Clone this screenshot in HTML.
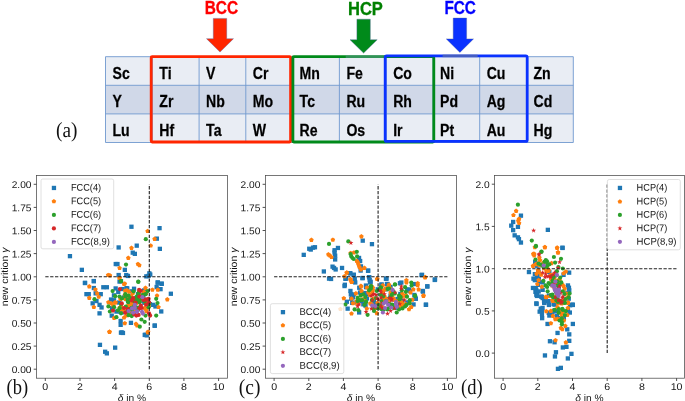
<!DOCTYPE html>
<html><head><meta charset="utf-8"><title>figure</title>
<style>html,body{margin:0;padding:0;background:#fff;}body{width:685px;height:401px;overflow:hidden;position:relative;font-family:"Liberation Sans",sans-serif;}</style></head>
<body>
<svg width="685" height="401" viewBox="0 0 685 401" style="position:absolute;left:0;top:0;will-change:transform">
<rect x="130.0" y="311.9" width="4.3" height="4.3" fill="#1f77b4"/>
<rect x="118.2" y="309.5" width="4.3" height="4.3" fill="#1f77b4"/>
<rect x="126.0" y="298.6" width="4.3" height="4.3" fill="#1f77b4"/>
<rect x="147.7" y="302.0" width="4.3" height="4.3" fill="#1f77b4"/>
<rect x="128.3" y="307.5" width="4.3" height="4.3" fill="#1f77b4"/>
<rect x="142.2" y="300.6" width="4.3" height="4.3" fill="#1f77b4"/>
<rect x="135.8" y="292.1" width="4.3" height="4.3" fill="#1f77b4"/>
<rect x="124.5" y="296.9" width="4.3" height="4.3" fill="#1f77b4"/>
<rect x="116.1" y="289.8" width="4.3" height="4.3" fill="#1f77b4"/>
<rect x="111.5" y="298.9" width="4.3" height="4.3" fill="#1f77b4"/>
<rect x="126.9" y="298.1" width="4.3" height="4.3" fill="#1f77b4"/>
<rect x="129.6" y="289.2" width="4.3" height="4.3" fill="#1f77b4"/>
<rect x="128.0" y="302.7" width="4.3" height="4.3" fill="#1f77b4"/>
<rect x="137.7" y="293.2" width="4.3" height="4.3" fill="#1f77b4"/>
<rect x="125.1" y="286.3" width="4.3" height="4.3" fill="#1f77b4"/>
<rect x="124.4" y="286.0" width="4.3" height="4.3" fill="#1f77b4"/>
<rect x="114.3" y="309.4" width="4.3" height="4.3" fill="#1f77b4"/>
<rect x="109.9" y="306.1" width="4.3" height="4.3" fill="#1f77b4"/>
<rect x="132.6" y="298.1" width="4.3" height="4.3" fill="#1f77b4"/>
<rect x="134.4" y="305.7" width="4.3" height="4.3" fill="#1f77b4"/>
<rect x="141.3" y="298.8" width="4.3" height="4.3" fill="#1f77b4"/>
<rect x="121.7" y="295.3" width="4.3" height="4.3" fill="#1f77b4"/>
<rect x="117.0" y="300.4" width="4.3" height="4.3" fill="#1f77b4"/>
<rect x="119.8" y="310.2" width="4.3" height="4.3" fill="#1f77b4"/>
<rect x="111.8" y="293.2" width="4.3" height="4.3" fill="#1f77b4"/>
<rect x="120.5" y="286.9" width="4.3" height="4.3" fill="#1f77b4"/>
<rect x="141.8" y="288.4" width="4.3" height="4.3" fill="#1f77b4"/>
<rect x="125.5" y="296.1" width="4.3" height="4.3" fill="#1f77b4"/>
<rect x="142.0" y="288.8" width="4.3" height="4.3" fill="#1f77b4"/>
<rect x="141.2" y="294.4" width="4.3" height="4.3" fill="#1f77b4"/>
<rect x="129.3" y="224.6" width="4.3" height="4.3" fill="#1f77b4"/>
<rect x="157.4" y="226.0" width="4.3" height="4.3" fill="#1f77b4"/>
<rect x="154.7" y="236.5" width="4.3" height="4.3" fill="#1f77b4"/>
<rect x="134.6" y="243.5" width="4.3" height="4.3" fill="#1f77b4"/>
<rect x="116.5" y="245.3" width="4.3" height="4.3" fill="#1f77b4"/>
<rect x="157.7" y="246.7" width="4.3" height="4.3" fill="#1f77b4"/>
<rect x="130.6" y="250.5" width="4.3" height="4.3" fill="#1f77b4"/>
<rect x="132.7" y="251.7" width="4.3" height="4.3" fill="#1f77b4"/>
<rect x="67.8" y="254.0" width="4.3" height="4.3" fill="#1f77b4"/>
<rect x="113.6" y="261.9" width="4.3" height="4.3" fill="#1f77b4"/>
<rect x="115.3" y="261.9" width="4.3" height="4.3" fill="#1f77b4"/>
<rect x="79.7" y="267.7" width="4.3" height="4.3" fill="#1f77b4"/>
<rect x="122.7" y="267.7" width="4.3" height="4.3" fill="#1f77b4"/>
<rect x="116.5" y="272.9" width="4.3" height="4.3" fill="#1f77b4"/>
<rect x="124.1" y="272.9" width="4.3" height="4.3" fill="#1f77b4"/>
<rect x="125.8" y="273.8" width="4.3" height="4.3" fill="#1f77b4"/>
<rect x="147.2" y="271.2" width="4.3" height="4.3" fill="#1f77b4"/>
<rect x="148.1" y="272.4" width="4.3" height="4.3" fill="#1f77b4"/>
<rect x="144.2" y="274.2" width="4.3" height="4.3" fill="#1f77b4"/>
<rect x="146.3" y="273.8" width="4.3" height="4.3" fill="#1f77b4"/>
<rect x="91.7" y="278.9" width="4.3" height="4.3" fill="#1f77b4"/>
<rect x="82.9" y="280.8" width="4.3" height="4.3" fill="#1f77b4"/>
<rect x="155.6" y="280.3" width="4.3" height="4.3" fill="#1f77b4"/>
<rect x="159.5" y="281.5" width="4.3" height="4.3" fill="#1f77b4"/>
<rect x="117.4" y="279.4" width="4.3" height="4.3" fill="#1f77b4"/>
<rect x="82.8" y="280.8" width="4.3" height="4.3" fill="#1f77b4"/>
<rect x="91.7" y="279.0" width="4.3" height="4.3" fill="#1f77b4"/>
<rect x="91.7" y="285.9" width="4.3" height="4.3" fill="#1f77b4"/>
<rect x="84.3" y="292.0" width="4.3" height="4.3" fill="#1f77b4"/>
<rect x="86.6" y="292.0" width="4.3" height="4.3" fill="#1f77b4"/>
<rect x="93.5" y="291.2" width="4.3" height="4.3" fill="#1f77b4"/>
<rect x="98.6" y="292.0" width="4.3" height="4.3" fill="#1f77b4"/>
<rect x="101.2" y="285.1" width="4.3" height="4.3" fill="#1f77b4"/>
<rect x="104.7" y="285.1" width="4.3" height="4.3" fill="#1f77b4"/>
<rect x="113.5" y="286.3" width="4.3" height="4.3" fill="#1f77b4"/>
<rect x="90.5" y="301.2" width="4.3" height="4.3" fill="#1f77b4"/>
<rect x="94.3" y="298.9" width="4.3" height="4.3" fill="#1f77b4"/>
<rect x="97.4" y="302.7" width="4.3" height="4.3" fill="#1f77b4"/>
<rect x="99.4" y="305.3" width="4.3" height="4.3" fill="#1f77b4"/>
<rect x="97.4" y="311.2" width="4.3" height="4.3" fill="#1f77b4"/>
<rect x="108.9" y="297.4" width="4.3" height="4.3" fill="#1f77b4"/>
<rect x="111.9" y="298.1" width="4.3" height="4.3" fill="#1f77b4"/>
<rect x="109.6" y="313.5" width="4.3" height="4.3" fill="#1f77b4"/>
<rect x="118.8" y="279.0" width="4.3" height="4.3" fill="#1f77b4"/>
<rect x="118.5" y="318.8" width="4.3" height="4.3" fill="#1f77b4"/>
<rect x="118.5" y="322.7" width="4.3" height="4.3" fill="#1f77b4"/>
<rect x="119.6" y="330.3" width="4.3" height="4.3" fill="#1f77b4"/>
<rect x="128.8" y="320.7" width="4.3" height="4.3" fill="#1f77b4"/>
<rect x="131.9" y="286.6" width="4.3" height="4.3" fill="#1f77b4"/>
<rect x="155.6" y="280.5" width="4.3" height="4.3" fill="#1f77b4"/>
<rect x="159.5" y="281.7" width="4.3" height="4.3" fill="#1f77b4"/>
<rect x="154.5" y="284.8" width="4.3" height="4.3" fill="#1f77b4"/>
<rect x="158.4" y="287.0" width="4.3" height="4.3" fill="#1f77b4"/>
<rect x="168.7" y="291.6" width="4.3" height="4.3" fill="#1f77b4"/>
<rect x="151.0" y="302.7" width="4.3" height="4.3" fill="#1f77b4"/>
<rect x="153.3" y="304.3" width="4.3" height="4.3" fill="#1f77b4"/>
<rect x="159.1" y="309.3" width="4.3" height="4.3" fill="#1f77b4"/>
<rect x="152.6" y="323.4" width="4.3" height="4.3" fill="#1f77b4"/>
<rect x="143.4" y="332.6" width="4.3" height="4.3" fill="#1f77b4"/>
<rect x="97.8" y="342.7" width="4.3" height="4.3" fill="#1f77b4"/>
<rect x="103.0" y="349.6" width="4.3" height="4.3" fill="#1f77b4"/>
<rect x="104.7" y="351.2" width="4.3" height="4.3" fill="#1f77b4"/>
<rect x="113.0" y="345.5" width="4.3" height="4.3" fill="#1f77b4"/>
<rect x="118.8" y="330.5" width="4.3" height="4.3" fill="#1f77b4"/>
<rect x="120.8" y="330.8" width="4.3" height="4.3" fill="#1f77b4"/>
<rect x="142.6" y="332.8" width="4.3" height="4.3" fill="#1f77b4"/>
<rect x="144.6" y="333.2" width="4.3" height="4.3" fill="#1f77b4"/>
<rect x="152.6" y="323.6" width="4.3" height="4.3" fill="#1f77b4"/>
<polygon points="131.4,295.2 133.7,296.9 132.8,299.6 130.0,299.6 129.1,296.9" fill="#ff7f0e"/>
<polygon points="139.3,291.9 141.6,293.5 140.7,296.2 137.9,296.2 137.0,293.5" fill="#ff7f0e"/>
<polygon points="132.3,303.2 134.5,304.9 133.7,307.6 130.8,307.6 130.0,304.9" fill="#ff7f0e"/>
<polygon points="143.9,289.5 146.2,291.2 145.3,293.9 142.5,293.9 141.6,291.2" fill="#ff7f0e"/>
<polygon points="146.4,307.1 148.7,308.7 147.8,311.4 145.0,311.4 144.1,308.7" fill="#ff7f0e"/>
<polygon points="128.1,303.0 130.4,304.7 129.5,307.3 126.7,307.3 125.8,304.7" fill="#ff7f0e"/>
<polygon points="128.8,312.1 131.1,313.8 130.2,316.4 127.4,316.4 126.5,313.8" fill="#ff7f0e"/>
<polygon points="134.9,299.1 137.2,300.7 136.3,303.4 133.5,303.4 132.6,300.7" fill="#ff7f0e"/>
<polygon points="130.9,299.2 133.2,300.8 132.3,303.5 129.5,303.5 128.6,300.8" fill="#ff7f0e"/>
<polygon points="131.2,293.5 133.5,295.2 132.6,297.9 129.8,297.9 128.9,295.2" fill="#ff7f0e"/>
<polygon points="146.0,291.2 148.3,292.8 147.4,295.5 144.6,295.5 143.8,292.8" fill="#ff7f0e"/>
<polygon points="115.0,300.1 117.3,301.8 116.4,304.5 113.6,304.5 112.7,301.8" fill="#ff7f0e"/>
<polygon points="131.6,303.4 133.9,305.1 133.0,307.7 130.2,307.7 129.3,305.1" fill="#ff7f0e"/>
<polygon points="131.2,299.6 133.5,301.2 132.6,303.9 129.8,303.9 128.9,301.2" fill="#ff7f0e"/>
<polygon points="136.4,308.3 138.7,310.0 137.8,312.7 135.0,312.7 134.1,310.0" fill="#ff7f0e"/>
<polygon points="128.5,297.7 130.7,299.3 129.9,302.0 127.0,302.0 126.2,299.3" fill="#ff7f0e"/>
<polygon points="148.9,304.0 151.2,305.6 150.4,308.3 147.5,308.3 146.7,305.6" fill="#ff7f0e"/>
<polygon points="126.1,313.2 128.4,314.8 127.6,317.5 124.7,317.5 123.9,314.8" fill="#ff7f0e"/>
<polygon points="141.0,295.9 143.3,297.5 142.4,300.2 139.6,300.2 138.7,297.5" fill="#ff7f0e"/>
<polygon points="121.2,302.9 123.5,304.6 122.6,307.3 119.8,307.3 118.9,304.6" fill="#ff7f0e"/>
<polygon points="124.8,292.5 127.1,294.2 126.3,296.9 123.4,296.9 122.6,294.2" fill="#ff7f0e"/>
<polygon points="120.4,296.8 122.7,298.4 121.8,301.1 119.0,301.1 118.1,298.4" fill="#ff7f0e"/>
<polygon points="144.2,297.2 146.4,298.9 145.6,301.5 142.7,301.5 141.9,298.9" fill="#ff7f0e"/>
<polygon points="119.6,305.4 121.9,307.1 121.0,309.8 118.2,309.8 117.3,307.1" fill="#ff7f0e"/>
<polygon points="133.7,307.4 136.0,309.1 135.1,311.7 132.3,311.7 131.4,309.1" fill="#ff7f0e"/>
<polygon points="145.1,299.3 147.3,300.9 146.5,303.6 143.6,303.6 142.8,300.9" fill="#ff7f0e"/>
<polygon points="131.8,300.3 134.1,302.0 133.2,304.7 130.4,304.7 129.5,302.0" fill="#ff7f0e"/>
<polygon points="121.8,305.7 124.1,307.4 123.2,310.1 120.4,310.1 119.5,307.4" fill="#ff7f0e"/>
<polygon points="146.3,301.9 148.6,303.6 147.8,306.3 144.9,306.3 144.1,303.6" fill="#ff7f0e"/>
<polygon points="130.8,298.7 133.0,300.3 132.2,303.0 129.3,303.0 128.5,300.3" fill="#ff7f0e"/>
<polygon points="125.1,294.2 127.3,295.9 126.5,298.6 123.7,298.6 122.8,295.9" fill="#ff7f0e"/>
<polygon points="128.9,293.8 131.1,295.5 130.3,298.2 127.4,298.2 126.6,295.5" fill="#ff7f0e"/>
<polygon points="129.0,289.4 131.3,291.0 130.4,293.7 127.6,293.7 126.7,291.0" fill="#ff7f0e"/>
<polygon points="136.3,301.0 138.6,302.6 137.7,305.3 134.9,305.3 134.0,302.6" fill="#ff7f0e"/>
<polygon points="125.1,288.4 127.4,290.0 126.5,292.7 123.7,292.7 122.8,290.0" fill="#ff7f0e"/>
<polygon points="132.9,309.3 135.2,311.0 134.3,313.7 131.5,313.7 130.6,311.0" fill="#ff7f0e"/>
<polygon points="125.4,296.7 127.7,298.4 126.8,301.1 124.0,301.1 123.1,298.4" fill="#ff7f0e"/>
<polygon points="127.1,305.9 129.4,307.5 128.5,310.2 125.7,310.2 124.8,307.5" fill="#ff7f0e"/>
<polygon points="124.0,308.1 126.3,309.8 125.4,312.5 122.6,312.5 121.7,309.8" fill="#ff7f0e"/>
<polygon points="129.9,308.0 132.2,309.7 131.3,312.4 128.5,312.4 127.6,309.7" fill="#ff7f0e"/>
<polygon points="147.6,228.7 149.9,230.4 149.0,233.1 146.2,233.1 145.3,230.4" fill="#ff7f0e"/>
<polygon points="154.6,236.6 156.9,238.3 156.0,240.9 153.2,240.9 152.3,238.3" fill="#ff7f0e"/>
<polygon points="150.7,243.3 153.0,244.9 152.2,247.6 149.3,247.6 148.5,244.9" fill="#ff7f0e"/>
<polygon points="131.5,245.5 133.8,247.2 132.9,249.9 130.1,249.9 129.2,247.2" fill="#ff7f0e"/>
<polygon points="128.3,255.5 130.6,257.2 129.7,259.9 126.9,259.9 126.0,257.2" fill="#ff7f0e"/>
<polygon points="138.0,261.7 140.2,263.3 139.4,266.0 136.6,266.0 135.7,263.3" fill="#ff7f0e"/>
<polygon points="139.4,262.9 141.6,264.5 140.8,267.2 138.0,267.2 137.1,264.5" fill="#ff7f0e"/>
<polygon points="119.6,265.7 121.8,267.3 121.0,270.0 118.2,270.0 117.3,267.3" fill="#ff7f0e"/>
<polygon points="108.2,272.7 110.5,274.3 109.6,277.0 106.8,277.0 105.9,274.3" fill="#ff7f0e"/>
<polygon points="109.9,273.0 112.2,274.7 111.3,277.4 108.5,277.4 107.6,274.7" fill="#ff7f0e"/>
<polygon points="119.6,275.7 121.8,277.3 121.0,280.0 118.2,280.0 117.3,277.3" fill="#ff7f0e"/>
<polygon points="124.8,281.3 127.1,282.9 126.2,285.6 123.4,285.6 122.5,282.9" fill="#ff7f0e"/>
<polygon points="89.3,284.1 91.5,285.8 90.7,288.4 87.8,288.4 87.0,285.8" fill="#ff7f0e"/>
<polygon points="95.4,287.2 97.7,288.8 96.8,291.5 94.0,291.5 93.1,288.8" fill="#ff7f0e"/>
<polygon points="97.2,291.0 99.5,292.7 98.6,295.3 95.8,295.3 94.9,292.7" fill="#ff7f0e"/>
<polygon points="98.8,294.4 101.0,296.0 100.2,298.7 97.3,298.7 96.5,296.0" fill="#ff7f0e"/>
<polygon points="89.3,295.6 91.5,297.3 90.7,299.9 87.8,299.9 87.0,297.3" fill="#ff7f0e"/>
<polygon points="93.9,304.8 96.1,306.4 95.3,309.1 92.4,309.1 91.6,306.4" fill="#ff7f0e"/>
<polygon points="108.4,299.9 110.7,301.5 109.8,304.2 107.0,304.2 106.1,301.5" fill="#ff7f0e"/>
<polygon points="111.0,301.0 113.3,302.6 112.4,305.3 109.6,305.3 108.7,302.6" fill="#ff7f0e"/>
<polygon points="113.3,303.3 115.6,304.9 114.7,307.6 111.9,307.6 111.0,304.9" fill="#ff7f0e"/>
<polygon points="115.6,300.2 117.9,301.8 117.0,304.5 114.2,304.5 113.3,301.8" fill="#ff7f0e"/>
<polygon points="124.0,281.8 126.3,283.5 125.5,286.1 122.6,286.1 121.8,283.5" fill="#ff7f0e"/>
<polygon points="119.5,275.7 121.7,277.3 120.9,280.0 118.0,280.0 117.2,277.3" fill="#ff7f0e"/>
<polygon points="126.8,287.9 129.1,289.6 128.2,292.3 125.4,292.3 124.5,289.6" fill="#ff7f0e"/>
<polygon points="132.9,290.7 135.2,292.3 134.4,295.0 131.5,295.0 130.7,292.3" fill="#ff7f0e"/>
<polygon points="145.5,285.6 147.8,287.3 146.9,290.0 144.1,290.0 143.2,287.3" fill="#ff7f0e"/>
<polygon points="152.4,287.5 154.7,289.1 153.8,291.8 151.0,291.8 150.1,289.1" fill="#ff7f0e"/>
<polygon points="157.8,287.5 160.1,289.1 159.2,291.8 156.4,291.8 155.5,289.1" fill="#ff7f0e"/>
<polygon points="157.0,293.3 159.3,295.0 158.4,297.6 155.6,297.6 154.7,295.0" fill="#ff7f0e"/>
<polygon points="167.3,297.1 169.6,298.8 168.7,301.5 165.9,301.5 165.0,298.8" fill="#ff7f0e"/>
<polygon points="158.5,304.8 160.8,306.4 159.9,309.1 157.1,309.1 156.3,306.4" fill="#ff7f0e"/>
<polygon points="136.3,296.4 138.6,298.0 137.7,300.7 134.9,300.7 134.0,298.0" fill="#ff7f0e"/>
<polygon points="124.0,315.2 126.3,316.9 125.5,319.6 122.6,319.6 121.8,316.9" fill="#ff7f0e"/>
<polygon points="114.1,315.5 116.4,317.2 115.5,319.9 112.7,319.9 111.8,317.2" fill="#ff7f0e"/>
<polygon points="124.8,320.9 127.1,322.5 126.2,325.2 123.4,325.2 122.5,322.5" fill="#ff7f0e"/>
<polygon points="136.0,321.6 138.3,323.3 137.4,326.0 134.6,326.0 133.7,323.3" fill="#ff7f0e"/>
<polygon points="137.1,323.2 139.4,324.8 138.5,327.5 135.7,327.5 134.8,324.8" fill="#ff7f0e"/>
<polygon points="109.5,329.6 111.8,331.3 110.9,334.0 108.1,334.0 107.2,331.3" fill="#ff7f0e"/>
<polygon points="147.8,330.1 150.1,331.7 149.2,334.4 146.4,334.4 145.5,331.7" fill="#ff7f0e"/>
<polygon points="144.7,305.6 147.0,307.2 146.2,309.9 143.3,309.9 142.5,307.2" fill="#ff7f0e"/>
<polygon points="146.3,308.6 148.6,310.3 147.7,313.0 144.9,313.0 144.0,310.3" fill="#ff7f0e"/>
<polygon points="121.0,307.1 123.3,308.7 122.4,311.4 119.6,311.4 118.7,308.7" fill="#ff7f0e"/>
<polygon points="130.2,303.3 132.5,304.9 131.6,307.6 128.8,307.6 127.9,304.9" fill="#ff7f0e"/>
<polygon points="109.5,329.5 111.8,331.1 110.9,333.8 108.1,333.8 107.2,331.1" fill="#ff7f0e"/>
<polygon points="148.1,329.5 150.4,331.1 149.5,333.8 146.7,333.8 145.8,331.1" fill="#ff7f0e"/>
<circle cx="134.3" cy="301.5" r="2.1" fill="#2ca02c"/>
<circle cx="121.9" cy="298.4" r="2.1" fill="#2ca02c"/>
<circle cx="131.6" cy="307.9" r="2.1" fill="#2ca02c"/>
<circle cx="136.2" cy="297.8" r="2.1" fill="#2ca02c"/>
<circle cx="137.7" cy="310.3" r="2.1" fill="#2ca02c"/>
<circle cx="132.7" cy="299.9" r="2.1" fill="#2ca02c"/>
<circle cx="130.4" cy="309.1" r="2.1" fill="#2ca02c"/>
<circle cx="138.9" cy="296.1" r="2.1" fill="#2ca02c"/>
<circle cx="137.4" cy="299.5" r="2.1" fill="#2ca02c"/>
<circle cx="127.6" cy="311.6" r="2.1" fill="#2ca02c"/>
<circle cx="141.4" cy="297.7" r="2.1" fill="#2ca02c"/>
<circle cx="134.7" cy="306.6" r="2.1" fill="#2ca02c"/>
<circle cx="128.2" cy="302.1" r="2.1" fill="#2ca02c"/>
<circle cx="139.0" cy="292.0" r="2.1" fill="#2ca02c"/>
<circle cx="137.0" cy="308.5" r="2.1" fill="#2ca02c"/>
<circle cx="138.3" cy="293.7" r="2.1" fill="#2ca02c"/>
<circle cx="136.9" cy="296.6" r="2.1" fill="#2ca02c"/>
<circle cx="139.2" cy="307.5" r="2.1" fill="#2ca02c"/>
<circle cx="136.0" cy="297.3" r="2.1" fill="#2ca02c"/>
<circle cx="128.6" cy="309.3" r="2.1" fill="#2ca02c"/>
<circle cx="125.8" cy="306.7" r="2.1" fill="#2ca02c"/>
<circle cx="138.6" cy="301.0" r="2.1" fill="#2ca02c"/>
<circle cx="149.4" cy="303.4" r="2.1" fill="#2ca02c"/>
<circle cx="145.6" cy="294.2" r="2.1" fill="#2ca02c"/>
<circle cx="119.8" cy="308.1" r="2.1" fill="#2ca02c"/>
<circle cx="139.8" cy="300.7" r="2.1" fill="#2ca02c"/>
<circle cx="133.6" cy="291.3" r="2.1" fill="#2ca02c"/>
<circle cx="128.4" cy="295.5" r="2.1" fill="#2ca02c"/>
<circle cx="132.0" cy="309.6" r="2.1" fill="#2ca02c"/>
<circle cx="134.5" cy="305.6" r="2.1" fill="#2ca02c"/>
<circle cx="127.6" cy="299.7" r="2.1" fill="#2ca02c"/>
<circle cx="134.9" cy="301.1" r="2.1" fill="#2ca02c"/>
<circle cx="145.8" cy="239.2" r="2.1" fill="#2ca02c"/>
<circle cx="126.0" cy="264.6" r="2.1" fill="#2ca02c"/>
<circle cx="121.0" cy="281.2" r="2.1" fill="#2ca02c"/>
<circle cx="138.3" cy="281.6" r="2.1" fill="#2ca02c"/>
<circle cx="138.3" cy="281.9" r="2.1" fill="#2ca02c"/>
<circle cx="121.0" cy="281.1" r="2.1" fill="#2ca02c"/>
<circle cx="112.6" cy="291.1" r="2.1" fill="#2ca02c"/>
<circle cx="115.2" cy="296.2" r="2.1" fill="#2ca02c"/>
<circle cx="119.5" cy="296.5" r="2.1" fill="#2ca02c"/>
<circle cx="125.3" cy="294.2" r="2.1" fill="#2ca02c"/>
<circle cx="125.3" cy="296.5" r="2.1" fill="#2ca02c"/>
<circle cx="130.2" cy="298.0" r="2.1" fill="#2ca02c"/>
<circle cx="127.9" cy="301.8" r="2.1" fill="#2ca02c"/>
<circle cx="94.5" cy="299.2" r="2.1" fill="#2ca02c"/>
<circle cx="108.4" cy="306.4" r="2.1" fill="#2ca02c"/>
<circle cx="114.1" cy="307.2" r="2.1" fill="#2ca02c"/>
<circle cx="109.9" cy="311.5" r="2.1" fill="#2ca02c"/>
<circle cx="117.9" cy="310.3" r="2.1" fill="#2ca02c"/>
<circle cx="116.4" cy="317.2" r="2.1" fill="#2ca02c"/>
<circle cx="121.0" cy="313.3" r="2.1" fill="#2ca02c"/>
<circle cx="128.6" cy="315.2" r="2.1" fill="#2ca02c"/>
<circle cx="131.7" cy="316.1" r="2.1" fill="#2ca02c"/>
<circle cx="141.4" cy="319.5" r="2.1" fill="#2ca02c"/>
<circle cx="144.7" cy="321.8" r="2.1" fill="#2ca02c"/>
<circle cx="139.8" cy="326.7" r="2.1" fill="#2ca02c"/>
<circle cx="156.2" cy="315.6" r="2.1" fill="#2ca02c"/>
<circle cx="156.2" cy="298.8" r="2.1" fill="#2ca02c"/>
<circle cx="157.5" cy="303.1" r="2.1" fill="#2ca02c"/>
<circle cx="147.8" cy="291.1" r="2.1" fill="#2ca02c"/>
<circle cx="147.0" cy="299.5" r="2.1" fill="#2ca02c"/>
<circle cx="144.7" cy="301.8" r="2.1" fill="#2ca02c"/>
<circle cx="148.6" cy="307.2" r="2.1" fill="#2ca02c"/>
<circle cx="136.3" cy="308.0" r="2.1" fill="#2ca02c"/>
<circle cx="139.4" cy="302.6" r="2.1" fill="#2ca02c"/>
<circle cx="143.2" cy="294.9" r="2.1" fill="#2ca02c"/>
<circle cx="145.5" cy="315.6" r="2.1" fill="#2ca02c"/>
<circle cx="121.0" cy="304.1" r="2.1" fill="#2ca02c"/>
<circle cx="144.3" cy="299.4" r="2.1" fill="#d62728"/>
<circle cx="146.1" cy="299.7" r="2.1" fill="#d62728"/>
<circle cx="143.4" cy="299.8" r="2.1" fill="#d62728"/>
<circle cx="146.2" cy="304.7" r="2.1" fill="#d62728"/>
<circle cx="139.5" cy="308.3" r="2.1" fill="#d62728"/>
<circle cx="133.1" cy="298.2" r="2.1" fill="#d62728"/>
<circle cx="127.9" cy="309.0" r="2.1" fill="#d62728"/>
<circle cx="119.9" cy="289.1" r="2.1" fill="#d62728"/>
<circle cx="139.1" cy="289.9" r="2.1" fill="#d62728"/>
<circle cx="140.6" cy="290.8" r="2.1" fill="#d62728"/>
<circle cx="131.7" cy="300.3" r="2.1" fill="#d62728"/>
<circle cx="121.8" cy="303.4" r="2.1" fill="#d62728"/>
<circle cx="124.0" cy="308.0" r="2.1" fill="#d62728"/>
<circle cx="113.0" cy="310.6" r="2.1" fill="#d62728"/>
<circle cx="125.3" cy="312.6" r="2.1" fill="#d62728"/>
<circle cx="134.0" cy="314.1" r="2.1" fill="#d62728"/>
<circle cx="136.3" cy="315.6" r="2.1" fill="#d62728"/>
<circle cx="138.6" cy="314.9" r="2.1" fill="#d62728"/>
<circle cx="140.9" cy="305.7" r="2.1" fill="#d62728"/>
<circle cx="141.7" cy="308.0" r="2.1" fill="#d62728"/>
<circle cx="148.6" cy="298.8" r="2.1" fill="#d62728"/>
<circle cx="149.0" cy="302.3" r="2.1" fill="#d62728"/>
<circle cx="149.0" cy="313.3" r="2.1" fill="#d62728"/>
<circle cx="150.1" cy="315.6" r="2.1" fill="#d62728"/>
<circle cx="139.4" cy="296.5" r="2.1" fill="#d62728"/>
<circle cx="135.5" cy="302.6" r="2.1" fill="#d62728"/>
<circle cx="134.8" cy="307.9" r="2.1" fill="#9467bd"/>
<circle cx="136.9" cy="311.8" r="2.1" fill="#9467bd"/>
<circle cx="142.4" cy="297.2" r="2.1" fill="#9467bd"/>
<circle cx="134.8" cy="304.9" r="2.1" fill="#9467bd"/>
<circle cx="132.0" cy="308.4" r="2.1" fill="#9467bd"/>
<circle cx="128.6" cy="311.0" r="2.1" fill="#9467bd"/>
<circle cx="133.2" cy="312.6" r="2.1" fill="#9467bd"/>
<circle cx="137.1" cy="311.3" r="2.1" fill="#9467bd"/>
<circle cx="142.0" cy="311.8" r="2.1" fill="#9467bd"/>
<circle cx="142.9" cy="313.6" r="2.1" fill="#9467bd"/>
<g stroke="#222" stroke-width="1.1" stroke-dasharray="3.3,1.56" fill="none">
<line x1="45.3" y1="276.8" x2="218.6" y2="276.8"/>
<line x1="149.3" y1="369.2" x2="149.3" y2="184.3"/>
</g>
<rect x="36.5" y="175.5" width="190.9" height="202.7" fill="none" stroke="#4a4a4a" stroke-width="0.75"/>
<line x1="45.3" y1="378.2" x2="45.3" y2="381.0" stroke="#333" stroke-width="0.85"/>
<text x="45.3" y="390.0" transform="rotate(0.03 45.3 390.0)" font-family="Liberation Sans, sans-serif" font-size="9.8" text-anchor="middle" fill="#161616" textLength="5.9" lengthAdjust="spacingAndGlyphs">0</text>
<line x1="80.0" y1="378.2" x2="80.0" y2="381.0" stroke="#333" stroke-width="0.85"/>
<text x="80.0" y="390.0" transform="rotate(0.03 80.0 390.0)" font-family="Liberation Sans, sans-serif" font-size="9.8" text-anchor="middle" fill="#161616" textLength="5.9" lengthAdjust="spacingAndGlyphs">2</text>
<line x1="114.6" y1="378.2" x2="114.6" y2="381.0" stroke="#333" stroke-width="0.85"/>
<text x="114.6" y="390.0" transform="rotate(0.03 114.6 390.0)" font-family="Liberation Sans, sans-serif" font-size="9.8" text-anchor="middle" fill="#161616" textLength="5.9" lengthAdjust="spacingAndGlyphs">4</text>
<line x1="149.3" y1="378.2" x2="149.3" y2="381.0" stroke="#333" stroke-width="0.85"/>
<text x="149.3" y="390.0" transform="rotate(0.03 149.3 390.0)" font-family="Liberation Sans, sans-serif" font-size="9.8" text-anchor="middle" fill="#161616" textLength="5.9" lengthAdjust="spacingAndGlyphs">6</text>
<line x1="183.9" y1="378.2" x2="183.9" y2="381.0" stroke="#333" stroke-width="0.85"/>
<text x="183.9" y="390.0" transform="rotate(0.03 183.9 390.0)" font-family="Liberation Sans, sans-serif" font-size="9.8" text-anchor="middle" fill="#161616" textLength="5.9" lengthAdjust="spacingAndGlyphs">8</text>
<line x1="218.6" y1="378.2" x2="218.6" y2="381.0" stroke="#333" stroke-width="0.85"/>
<text x="218.6" y="390.0" transform="rotate(0.03 218.6 390.0)" font-family="Liberation Sans, sans-serif" font-size="9.8" text-anchor="middle" fill="#161616" textLength="11.8" lengthAdjust="spacingAndGlyphs">10</text>
<line x1="33.7" y1="369.2" x2="36.5" y2="369.2" stroke="#333" stroke-width="0.85"/>
<text x="31.5" y="373.0" transform="rotate(0.03 31.5 373.0)" font-family="Liberation Sans, sans-serif" font-size="9.8" text-anchor="end" fill="#161616" textLength="19.8" lengthAdjust="spacingAndGlyphs">0.00</text>
<line x1="33.7" y1="346.1" x2="36.5" y2="346.1" stroke="#333" stroke-width="0.85"/>
<text x="31.5" y="349.9" transform="rotate(0.03 31.5 349.9)" font-family="Liberation Sans, sans-serif" font-size="9.8" text-anchor="end" fill="#161616" textLength="19.8" lengthAdjust="spacingAndGlyphs">0.25</text>
<line x1="33.7" y1="323.0" x2="36.5" y2="323.0" stroke="#333" stroke-width="0.85"/>
<text x="31.5" y="326.8" transform="rotate(0.03 31.5 326.8)" font-family="Liberation Sans, sans-serif" font-size="9.8" text-anchor="end" fill="#161616" textLength="19.8" lengthAdjust="spacingAndGlyphs">0.50</text>
<line x1="33.7" y1="299.9" x2="36.5" y2="299.9" stroke="#333" stroke-width="0.85"/>
<text x="31.5" y="303.7" transform="rotate(0.03 31.5 303.7)" font-family="Liberation Sans, sans-serif" font-size="9.8" text-anchor="end" fill="#161616" textLength="19.8" lengthAdjust="spacingAndGlyphs">0.75</text>
<line x1="33.7" y1="276.8" x2="36.5" y2="276.8" stroke="#333" stroke-width="0.85"/>
<text x="31.5" y="280.6" transform="rotate(0.03 31.5 280.6)" font-family="Liberation Sans, sans-serif" font-size="9.8" text-anchor="end" fill="#161616" textLength="19.8" lengthAdjust="spacingAndGlyphs">1.00</text>
<line x1="33.7" y1="253.6" x2="36.5" y2="253.6" stroke="#333" stroke-width="0.85"/>
<text x="31.5" y="257.4" transform="rotate(0.03 31.5 257.4)" font-family="Liberation Sans, sans-serif" font-size="9.8" text-anchor="end" fill="#161616" textLength="19.8" lengthAdjust="spacingAndGlyphs">1.25</text>
<line x1="33.7" y1="230.5" x2="36.5" y2="230.5" stroke="#333" stroke-width="0.85"/>
<text x="31.5" y="234.3" transform="rotate(0.03 31.5 234.3)" font-family="Liberation Sans, sans-serif" font-size="9.8" text-anchor="end" fill="#161616" textLength="19.8" lengthAdjust="spacingAndGlyphs">1.50</text>
<line x1="33.7" y1="207.4" x2="36.5" y2="207.4" stroke="#333" stroke-width="0.85"/>
<text x="31.5" y="211.2" transform="rotate(0.03 31.5 211.2)" font-family="Liberation Sans, sans-serif" font-size="9.8" text-anchor="end" fill="#161616" textLength="19.8" lengthAdjust="spacingAndGlyphs">1.75</text>
<line x1="33.7" y1="184.3" x2="36.5" y2="184.3" stroke="#333" stroke-width="0.85"/>
<text x="31.5" y="188.1" transform="rotate(0.03 31.5 188.1)" font-family="Liberation Sans, sans-serif" font-size="9.8" text-anchor="end" fill="#161616" textLength="19.8" lengthAdjust="spacingAndGlyphs">2.00</text>
<text x="117.7" y="401.2" transform="rotate(0.03 117.7 401.2)" font-family="Liberation Sans, sans-serif" font-size="9.8" text-anchor="start" fill="#161616" textLength="28.4" lengthAdjust="spacingAndGlyphs"><tspan font-style="italic">δ</tspan> in %</text>
<g transform="translate(7.9,306.2) rotate(-90)"><text x="0.0" y="0.0" transform="rotate(0.03 0.0 0.0)" font-family="Liberation Sans, sans-serif" font-size="9.8" text-anchor="start" fill="#161616" textLength="58.8" lengthAdjust="spacingAndGlyphs">new crition <tspan font-style="italic">γ</tspan></text></g>
<rect x="41" y="179" width="72.7" height="69.8" rx="1.8" fill="#fff" fill-opacity="0.8" stroke="#d4d4d4" stroke-opacity="0.8" stroke-width="0.9"/>
<rect x="51.8" y="185.8" width="4.3" height="4.3" fill="#1f77b4"/>
<text x="70.9" y="190.8" transform="rotate(0.03 70.9 190.8)" font-family="Liberation Sans, sans-serif" font-size="9.8" text-anchor="start" fill="#161616" textLength="30.2" lengthAdjust="spacingAndGlyphs">FCC(4)</text>
<polygon points="53.9,199.0 56.2,200.7 55.3,203.3 52.5,203.3 51.6,200.7" fill="#ff7f0e"/>
<text x="70.9" y="204.3" transform="rotate(0.03 70.9 204.3)" font-family="Liberation Sans, sans-serif" font-size="9.8" text-anchor="start" fill="#161616" textLength="30.2" lengthAdjust="spacingAndGlyphs">FCC(5)</text>
<circle cx="53.9" cy="214.9" r="2.1" fill="#2ca02c"/>
<text x="70.9" y="217.8" transform="rotate(0.03 70.9 217.8)" font-family="Liberation Sans, sans-serif" font-size="9.8" text-anchor="start" fill="#161616" textLength="30.2" lengthAdjust="spacingAndGlyphs">FCC(6)</text>
<circle cx="53.9" cy="228.4" r="2.1" fill="#d62728"/>
<text x="70.9" y="231.3" transform="rotate(0.03 70.9 231.3)" font-family="Liberation Sans, sans-serif" font-size="9.8" text-anchor="start" fill="#161616" textLength="30.2" lengthAdjust="spacingAndGlyphs">FCC(7)</text>
<circle cx="53.9" cy="241.9" r="2.1" fill="#9467bd"/>
<text x="70.9" y="244.8" transform="rotate(0.03 70.9 244.8)" font-family="Liberation Sans, sans-serif" font-size="9.8" text-anchor="start" fill="#161616" textLength="38.9" lengthAdjust="spacingAndGlyphs">FCC(8,9)</text>
<text x="6.5" y="393.6" transform="rotate(0.03 6.5 393.6)" font-family="Liberation Serif, sans-serif" font-size="21.5" text-anchor="start" fill="#111" textLength="21.6" lengthAdjust="spacingAndGlyphs">(b)</text>
<rect x="349.1" y="296.6" width="4.3" height="4.3" fill="#1f77b4"/>
<rect x="371.7" y="299.1" width="4.3" height="4.3" fill="#1f77b4"/>
<rect x="348.7" y="292.2" width="4.3" height="4.3" fill="#1f77b4"/>
<rect x="394.7" y="305.6" width="4.3" height="4.3" fill="#1f77b4"/>
<rect x="407.7" y="289.0" width="4.3" height="4.3" fill="#1f77b4"/>
<rect x="380.7" y="294.2" width="4.3" height="4.3" fill="#1f77b4"/>
<rect x="357.1" y="285.6" width="4.3" height="4.3" fill="#1f77b4"/>
<rect x="395.5" y="296.8" width="4.3" height="4.3" fill="#1f77b4"/>
<rect x="377.0" y="304.3" width="4.3" height="4.3" fill="#1f77b4"/>
<rect x="359.5" y="299.0" width="4.3" height="4.3" fill="#1f77b4"/>
<rect x="380.0" y="294.5" width="4.3" height="4.3" fill="#1f77b4"/>
<rect x="389.7" y="296.2" width="4.3" height="4.3" fill="#1f77b4"/>
<rect x="385.0" y="296.8" width="4.3" height="4.3" fill="#1f77b4"/>
<rect x="412.2" y="292.8" width="4.3" height="4.3" fill="#1f77b4"/>
<rect x="400.3" y="299.6" width="4.3" height="4.3" fill="#1f77b4"/>
<rect x="372.6" y="301.3" width="4.3" height="4.3" fill="#1f77b4"/>
<rect x="363.4" y="303.5" width="4.3" height="4.3" fill="#1f77b4"/>
<rect x="363.1" y="290.9" width="4.3" height="4.3" fill="#1f77b4"/>
<rect x="386.5" y="301.5" width="4.3" height="4.3" fill="#1f77b4"/>
<rect x="397.9" y="301.8" width="4.3" height="4.3" fill="#1f77b4"/>
<rect x="375.6" y="287.2" width="4.3" height="4.3" fill="#1f77b4"/>
<rect x="391.1" y="297.2" width="4.3" height="4.3" fill="#1f77b4"/>
<rect x="361.2" y="302.2" width="4.3" height="4.3" fill="#1f77b4"/>
<rect x="384.0" y="287.2" width="4.3" height="4.3" fill="#1f77b4"/>
<rect x="388.4" y="284.9" width="4.3" height="4.3" fill="#1f77b4"/>
<rect x="361.8" y="298.1" width="4.3" height="4.3" fill="#1f77b4"/>
<rect x="350.7" y="295.1" width="4.3" height="4.3" fill="#1f77b4"/>
<rect x="354.5" y="300.2" width="4.3" height="4.3" fill="#1f77b4"/>
<rect x="364.8" y="296.3" width="4.3" height="4.3" fill="#1f77b4"/>
<rect x="351.6" y="292.3" width="4.3" height="4.3" fill="#1f77b4"/>
<rect x="399.2" y="298.5" width="4.3" height="4.3" fill="#1f77b4"/>
<rect x="350.1" y="300.7" width="4.3" height="4.3" fill="#1f77b4"/>
<rect x="398.2" y="291.8" width="4.3" height="4.3" fill="#1f77b4"/>
<rect x="404.9" y="287.6" width="4.3" height="4.3" fill="#1f77b4"/>
<rect x="301.6" y="252.7" width="4.3" height="4.3" fill="#1f77b4"/>
<rect x="307.1" y="246.6" width="4.3" height="4.3" fill="#1f77b4"/>
<rect x="308.6" y="247.4" width="4.3" height="4.3" fill="#1f77b4"/>
<rect x="310.9" y="245.5" width="4.3" height="4.3" fill="#1f77b4"/>
<rect x="312.8" y="245.1" width="4.3" height="4.3" fill="#1f77b4"/>
<rect x="335.8" y="245.8" width="4.3" height="4.3" fill="#1f77b4"/>
<rect x="332.4" y="248.1" width="4.3" height="4.3" fill="#1f77b4"/>
<rect x="332.4" y="250.4" width="4.3" height="4.3" fill="#1f77b4"/>
<rect x="333.0" y="253.5" width="4.3" height="4.3" fill="#1f77b4"/>
<rect x="333.0" y="257.3" width="4.3" height="4.3" fill="#1f77b4"/>
<rect x="330.4" y="264.5" width="4.3" height="4.3" fill="#1f77b4"/>
<rect x="331.9" y="265.8" width="4.3" height="4.3" fill="#1f77b4"/>
<rect x="333.5" y="267.3" width="4.3" height="4.3" fill="#1f77b4"/>
<rect x="321.7" y="269.3" width="4.3" height="4.3" fill="#1f77b4"/>
<rect x="339.9" y="265.8" width="4.3" height="4.3" fill="#1f77b4"/>
<rect x="326.9" y="276.5" width="4.3" height="4.3" fill="#1f77b4"/>
<rect x="328.9" y="276.8" width="4.3" height="4.3" fill="#1f77b4"/>
<rect x="360.6" y="238.5" width="4.3" height="4.3" fill="#1f77b4"/>
<rect x="369.8" y="242.0" width="4.3" height="4.3" fill="#1f77b4"/>
<rect x="356.9" y="255.8" width="4.3" height="4.3" fill="#1f77b4"/>
<rect x="358.0" y="258.9" width="4.3" height="4.3" fill="#1f77b4"/>
<rect x="358.8" y="264.2" width="4.3" height="4.3" fill="#1f77b4"/>
<rect x="358.5" y="268.4" width="4.3" height="4.3" fill="#1f77b4"/>
<rect x="366.0" y="268.5" width="4.3" height="4.3" fill="#1f77b4"/>
<rect x="347.7" y="271.1" width="4.3" height="4.3" fill="#1f77b4"/>
<rect x="351.6" y="272.7" width="4.3" height="4.3" fill="#1f77b4"/>
<rect x="343.9" y="276.5" width="4.3" height="4.3" fill="#1f77b4"/>
<rect x="352.6" y="276.5" width="4.3" height="4.3" fill="#1f77b4"/>
<rect x="360.3" y="276.0" width="4.3" height="4.3" fill="#1f77b4"/>
<rect x="366.9" y="275.0" width="4.3" height="4.3" fill="#1f77b4"/>
<rect x="367.5" y="278.0" width="4.3" height="4.3" fill="#1f77b4"/>
<rect x="384.4" y="276.5" width="4.3" height="4.3" fill="#1f77b4"/>
<rect x="353.1" y="280.3" width="4.3" height="4.3" fill="#1f77b4"/>
<rect x="342.7" y="282.6" width="4.3" height="4.3" fill="#1f77b4"/>
<rect x="368.0" y="280.3" width="4.3" height="4.3" fill="#1f77b4"/>
<rect x="363.8" y="283.4" width="4.3" height="4.3" fill="#1f77b4"/>
<rect x="379.5" y="282.3" width="4.3" height="4.3" fill="#1f77b4"/>
<rect x="384.8" y="281.9" width="4.3" height="4.3" fill="#1f77b4"/>
<rect x="397.8" y="281.1" width="4.3" height="4.3" fill="#1f77b4"/>
<rect x="365.9" y="268.6" width="4.3" height="4.3" fill="#1f77b4"/>
<rect x="348.3" y="271.2" width="4.3" height="4.3" fill="#1f77b4"/>
<rect x="351.6" y="272.7" width="4.3" height="4.3" fill="#1f77b4"/>
<rect x="343.2" y="276.6" width="4.3" height="4.3" fill="#1f77b4"/>
<rect x="360.5" y="275.8" width="4.3" height="4.3" fill="#1f77b4"/>
<rect x="367.0" y="275.0" width="4.3" height="4.3" fill="#1f77b4"/>
<rect x="352.4" y="279.6" width="4.3" height="4.3" fill="#1f77b4"/>
<rect x="342.4" y="283.9" width="4.3" height="4.3" fill="#1f77b4"/>
<rect x="348.3" y="288.8" width="4.3" height="4.3" fill="#1f77b4"/>
<rect x="357.8" y="290.4" width="4.3" height="4.3" fill="#1f77b4"/>
<rect x="363.9" y="285.0" width="4.3" height="4.3" fill="#1f77b4"/>
<rect x="344.7" y="299.6" width="4.3" height="4.3" fill="#1f77b4"/>
<rect x="345.5" y="306.5" width="4.3" height="4.3" fill="#1f77b4"/>
<rect x="357.0" y="310.3" width="4.3" height="4.3" fill="#1f77b4"/>
<rect x="383.8" y="276.6" width="4.3" height="4.3" fill="#1f77b4"/>
<rect x="379.2" y="282.7" width="4.3" height="4.3" fill="#1f77b4"/>
<rect x="385.4" y="281.9" width="4.3" height="4.3" fill="#1f77b4"/>
<rect x="399.2" y="280.4" width="4.3" height="4.3" fill="#1f77b4"/>
<rect x="419.9" y="272.7" width="4.3" height="4.3" fill="#1f77b4"/>
<rect x="432.9" y="277.3" width="4.3" height="4.3" fill="#1f77b4"/>
<rect x="425.2" y="284.2" width="4.3" height="4.3" fill="#1f77b4"/>
<rect x="420.6" y="288.8" width="4.3" height="4.3" fill="#1f77b4"/>
<rect x="413.7" y="296.5" width="4.3" height="4.3" fill="#1f77b4"/>
<rect x="411.4" y="302.3" width="4.3" height="4.3" fill="#1f77b4"/>
<rect x="423.7" y="302.6" width="4.3" height="4.3" fill="#1f77b4"/>
<rect x="412.2" y="281.9" width="4.3" height="4.3" fill="#1f77b4"/>
<rect x="406.8" y="287.3" width="4.3" height="4.3" fill="#1f77b4"/>
<rect x="368.5" y="279.6" width="4.3" height="4.3" fill="#1f77b4"/>
<rect x="388.4" y="293.4" width="4.3" height="4.3" fill="#1f77b4"/>
<rect x="399.2" y="298.0" width="4.3" height="4.3" fill="#1f77b4"/>
<rect x="405.3" y="300.3" width="4.3" height="4.3" fill="#1f77b4"/>
<rect x="350.1" y="295.0" width="4.3" height="4.3" fill="#1f77b4"/>
<rect x="365.4" y="291.9" width="4.3" height="4.3" fill="#1f77b4"/>
<rect x="432.6" y="277.8" width="4.3" height="4.3" fill="#1f77b4"/>
<rect x="419.4" y="272.9" width="4.3" height="4.3" fill="#1f77b4"/>
<rect x="425.1" y="284.3" width="4.3" height="4.3" fill="#1f77b4"/>
<rect x="420.8" y="289.5" width="4.3" height="4.3" fill="#1f77b4"/>
<rect x="423.9" y="302.6" width="4.3" height="4.3" fill="#1f77b4"/>
<rect x="413.4" y="296.5" width="4.3" height="4.3" fill="#1f77b4"/>
<polygon points="381.4,303.8 383.7,305.4 382.8,308.1 380.0,308.1 379.1,305.4" fill="#ff7f0e"/>
<polygon points="403.9,303.6 406.1,305.3 405.3,308.0 402.4,308.0 401.6,305.3" fill="#ff7f0e"/>
<polygon points="366.9,285.3 369.2,286.9 368.3,289.6 365.5,289.6 364.6,286.9" fill="#ff7f0e"/>
<polygon points="389.8,285.8 392.1,287.4 391.2,290.1 388.4,290.1 387.5,287.4" fill="#ff7f0e"/>
<polygon points="380.6,286.4 382.9,288.1 382.0,290.8 379.2,290.8 378.3,288.1" fill="#ff7f0e"/>
<polygon points="402.1,301.3 404.4,303.0 403.5,305.6 400.7,305.6 399.8,303.0" fill="#ff7f0e"/>
<polygon points="393.3,295.7 395.6,297.4 394.7,300.1 391.9,300.1 391.0,297.4" fill="#ff7f0e"/>
<polygon points="383.8,293.6 386.1,295.3 385.2,298.0 382.4,298.0 381.5,295.3" fill="#ff7f0e"/>
<polygon points="389.9,297.4 392.2,299.0 391.3,301.7 388.5,301.7 387.6,299.0" fill="#ff7f0e"/>
<polygon points="391.6,292.4 393.9,294.1 393.0,296.8 390.2,296.8 389.3,294.1" fill="#ff7f0e"/>
<polygon points="412.4,297.3 414.7,299.0 413.8,301.7 411.0,301.7 410.1,299.0" fill="#ff7f0e"/>
<polygon points="404.6,303.7 406.8,305.4 406.0,308.0 403.2,308.0 402.3,305.4" fill="#ff7f0e"/>
<polygon points="369.3,285.2 371.6,286.9 370.7,289.6 367.9,289.6 367.0,286.9" fill="#ff7f0e"/>
<polygon points="405.7,292.8 408.0,294.5 407.1,297.2 404.3,297.2 403.4,294.5" fill="#ff7f0e"/>
<polygon points="384.4,293.9 386.6,295.6 385.8,298.2 382.9,298.2 382.1,295.6" fill="#ff7f0e"/>
<polygon points="385.4,287.0 387.7,288.6 386.8,291.3 384.0,291.3 383.1,288.6" fill="#ff7f0e"/>
<polygon points="381.1,292.3 383.4,293.9 382.5,296.6 379.7,296.6 378.8,293.9" fill="#ff7f0e"/>
<polygon points="382.8,283.1 385.1,284.8 384.2,287.5 381.4,287.5 380.5,284.8" fill="#ff7f0e"/>
<polygon points="398.6,298.1 400.8,299.7 400.0,302.4 397.2,302.4 396.3,299.7" fill="#ff7f0e"/>
<polygon points="355.9,291.1 358.2,292.7 357.3,295.4 354.5,295.4 353.6,292.7" fill="#ff7f0e"/>
<polygon points="383.6,300.2 385.9,301.9 385.0,304.6 382.2,304.6 381.3,301.9" fill="#ff7f0e"/>
<polygon points="383.0,305.3 385.3,307.0 384.4,309.7 381.6,309.7 380.7,307.0" fill="#ff7f0e"/>
<polygon points="383.4,288.2 385.7,289.8 384.8,292.5 382.0,292.5 381.1,289.8" fill="#ff7f0e"/>
<polygon points="370.3,301.1 372.5,302.8 371.7,305.5 368.8,305.5 368.0,302.8" fill="#ff7f0e"/>
<polygon points="371.5,301.8 373.8,303.5 372.9,306.2 370.1,306.2 369.2,303.5" fill="#ff7f0e"/>
<polygon points="401.9,299.9 404.1,301.5 403.3,304.2 400.5,304.2 399.6,301.5" fill="#ff7f0e"/>
<polygon points="402.1,294.3 404.4,296.0 403.5,298.7 400.7,298.7 399.8,296.0" fill="#ff7f0e"/>
<polygon points="382.8,291.3 385.1,292.9 384.2,295.6 381.4,295.6 380.5,292.9" fill="#ff7f0e"/>
<polygon points="372.9,285.4 375.1,287.0 374.3,289.7 371.5,289.7 370.6,287.0" fill="#ff7f0e"/>
<polygon points="372.8,287.8 375.1,289.5 374.2,292.2 371.4,292.2 370.5,289.5" fill="#ff7f0e"/>
<polygon points="357.8,296.6 360.1,298.3 359.2,301.0 356.4,301.0 355.5,298.3" fill="#ff7f0e"/>
<polygon points="391.4,293.1 393.7,294.8 392.8,297.4 390.0,297.4 389.1,294.8" fill="#ff7f0e"/>
<polygon points="405.8,301.8 408.1,303.4 407.3,306.1 404.4,306.1 403.6,303.4" fill="#ff7f0e"/>
<polygon points="402.2,291.2 404.5,292.9 403.6,295.6 400.8,295.6 400.0,292.9" fill="#ff7f0e"/>
<polygon points="357.6,299.3 359.9,301.0 359.1,303.7 356.2,303.7 355.4,301.0" fill="#ff7f0e"/>
<polygon points="388.8,301.0 391.1,302.7 390.3,305.4 387.4,305.4 386.6,302.7" fill="#ff7f0e"/>
<polygon points="390.5,304.6 392.8,306.2 391.9,308.9 389.1,308.9 388.2,306.2" fill="#ff7f0e"/>
<polygon points="377.6,300.6 379.8,302.2 379.0,304.9 376.1,304.9 375.3,302.2" fill="#ff7f0e"/>
<polygon points="371.4,283.8 373.7,285.5 372.8,288.2 370.0,288.2 369.1,285.5" fill="#ff7f0e"/>
<polygon points="375.4,305.7 377.7,307.4 376.8,310.1 374.0,310.1 373.1,307.4" fill="#ff7f0e"/>
<polygon points="357.3,301.7 359.6,303.4 358.8,306.1 355.9,306.1 355.1,303.4" fill="#ff7f0e"/>
<polygon points="370.1,292.6 372.4,294.3 371.5,297.0 368.7,297.0 367.8,294.3" fill="#ff7f0e"/>
<polygon points="383.7,296.9 386.0,298.6 385.1,301.3 382.3,301.3 381.4,298.6" fill="#ff7f0e"/>
<polygon points="364.6,296.5 366.9,298.2 366.0,300.9 363.2,300.9 362.3,298.2" fill="#ff7f0e"/>
<polygon points="311.4,237.6 313.7,239.3 312.8,242.0 310.0,242.0 309.1,239.3" fill="#ff7f0e"/>
<polygon points="332.9,237.5 335.1,239.1 334.3,241.8 331.4,241.8 330.6,239.1" fill="#ff7f0e"/>
<polygon points="361.4,234.1 363.7,235.8 362.8,238.4 360.0,238.4 359.1,235.8" fill="#ff7f0e"/>
<polygon points="328.4,252.0 330.7,253.7 329.8,256.4 327.0,256.4 326.1,253.7" fill="#ff7f0e"/>
<polygon points="329.9,253.3 332.2,254.9 331.4,257.6 328.5,257.6 327.7,254.9" fill="#ff7f0e"/>
<polygon points="331.5,254.8 333.8,256.4 332.9,259.1 330.1,259.1 329.2,256.4" fill="#ff7f0e"/>
<polygon points="350.6,250.7 352.9,252.3 352.1,255.0 349.2,255.0 348.4,252.3" fill="#ff7f0e"/>
<polygon points="354.0,250.2 356.3,251.8 355.4,254.5 352.6,254.5 351.7,251.8" fill="#ff7f0e"/>
<polygon points="356.8,258.6 359.1,260.3 358.2,263.0 355.4,263.0 354.5,260.3" fill="#ff7f0e"/>
<polygon points="357.8,260.2 360.1,261.8 359.3,264.5 356.4,264.5 355.6,261.8" fill="#ff7f0e"/>
<polygon points="358.6,262.5 360.9,264.1 360.0,266.8 357.2,266.8 356.3,264.1" fill="#ff7f0e"/>
<polygon points="359.4,264.8 361.7,266.4 360.8,269.1 358.0,269.1 357.1,266.4" fill="#ff7f0e"/>
<polygon points="360.9,267.1 363.2,268.7 362.3,271.4 359.5,271.4 358.6,268.7" fill="#ff7f0e"/>
<polygon points="364.4,265.5 366.7,267.2 365.8,269.9 363.0,269.9 362.2,267.2" fill="#ff7f0e"/>
<polygon points="346.7,270.4 348.9,272.1 348.1,274.8 345.2,274.8 344.4,272.1" fill="#ff7f0e"/>
<polygon points="344.5,273.9 346.8,275.6 345.9,278.3 343.1,278.3 342.2,275.6" fill="#ff7f0e"/>
<polygon points="350.6,277.0 352.9,278.7 352.1,281.4 349.2,281.4 348.4,278.7" fill="#ff7f0e"/>
<polygon points="351.7,279.8 354.0,281.4 353.1,284.1 350.3,284.1 349.4,281.4" fill="#ff7f0e"/>
<polygon points="377.3,276.7 379.6,278.4 378.7,281.0 375.9,281.0 375.0,278.4" fill="#ff7f0e"/>
<polygon points="389.0,282.7 391.2,284.3 390.4,287.0 387.6,287.0 386.7,284.3" fill="#ff7f0e"/>
<polygon points="360.9,283.6 363.2,285.3 362.3,287.9 359.5,287.9 358.6,285.3" fill="#ff7f0e"/>
<polygon points="346.9,270.2 349.2,271.9 348.3,274.5 345.5,274.5 344.6,271.9" fill="#ff7f0e"/>
<polygon points="377.1,276.6 379.4,278.3 378.5,281.0 375.7,281.0 374.8,278.3" fill="#ff7f0e"/>
<polygon points="350.4,277.1 352.7,278.8 351.8,281.4 349.0,281.4 348.1,278.8" fill="#ff7f0e"/>
<polygon points="351.5,279.7 353.8,281.4 352.9,284.0 350.1,284.0 349.2,281.4" fill="#ff7f0e"/>
<polygon points="361.0,284.3 363.3,286.0 362.4,288.6 359.6,288.6 358.7,286.0" fill="#ff7f0e"/>
<polygon points="361.5,288.6 363.7,290.3 362.9,292.9 360.0,292.9 359.2,290.3" fill="#ff7f0e"/>
<polygon points="368.4,290.1 370.6,291.8 369.8,294.5 366.9,294.5 366.1,291.8" fill="#ff7f0e"/>
<polygon points="369.9,292.4 372.2,294.1 371.3,296.8 368.5,296.8 367.6,294.1" fill="#ff7f0e"/>
<polygon points="372.2,289.4 374.5,291.0 373.6,293.7 370.8,293.7 369.9,291.0" fill="#ff7f0e"/>
<polygon points="351.5,296.3 353.8,297.9 352.9,300.6 350.1,300.6 349.2,297.9" fill="#ff7f0e"/>
<polygon points="353.0,300.9 355.3,302.5 354.4,305.2 351.6,305.2 350.7,302.5" fill="#ff7f0e"/>
<polygon points="343.8,295.9 346.1,297.6 345.2,300.3 342.4,300.3 341.5,297.6" fill="#ff7f0e"/>
<polygon points="356.9,298.6 359.1,300.2 358.3,302.9 355.5,302.9 354.6,300.2" fill="#ff7f0e"/>
<polygon points="362.2,297.0 364.5,298.7 363.6,301.4 360.8,301.4 359.9,298.7" fill="#ff7f0e"/>
<polygon points="351.5,311.3 353.8,312.9 352.9,315.6 350.1,315.6 349.2,312.9" fill="#ff7f0e"/>
<polygon points="376.8,310.8 379.1,312.5 378.2,315.2 375.4,315.2 374.5,312.5" fill="#ff7f0e"/>
<polygon points="366.8,306.2 369.1,307.9 368.2,310.6 365.4,310.6 364.5,307.9" fill="#ff7f0e"/>
<polygon points="389.0,282.5 391.3,284.1 390.5,286.8 387.6,286.8 386.8,284.1" fill="#ff7f0e"/>
<polygon points="386.8,285.5 389.0,287.2 388.2,289.9 385.3,289.9 384.5,287.2" fill="#ff7f0e"/>
<polygon points="390.6,290.1 392.9,291.8 392.0,294.5 389.2,294.5 388.3,291.8" fill="#ff7f0e"/>
<polygon points="406.4,277.9 408.7,279.5 407.8,282.2 405.0,282.2 404.1,279.5" fill="#ff7f0e"/>
<polygon points="406.4,280.2 408.7,281.8 407.8,284.5 405.0,284.5 404.1,281.8" fill="#ff7f0e"/>
<polygon points="417.7,280.9 420.0,282.6 419.1,285.3 416.3,285.3 415.4,282.6" fill="#ff7f0e"/>
<polygon points="417.7,282.9 420.0,284.6 419.1,287.3 416.3,287.3 415.4,284.6" fill="#ff7f0e"/>
<polygon points="418.6,287.1 420.9,288.7 420.0,291.4 417.2,291.4 416.4,288.7" fill="#ff7f0e"/>
<polygon points="423.5,293.2 425.8,294.8 424.9,297.5 422.1,297.5 421.3,294.8" fill="#ff7f0e"/>
<polygon points="413.3,287.1 415.6,288.7 414.7,291.4 411.9,291.4 411.0,288.7" fill="#ff7f0e"/>
<polygon points="410.5,290.1 412.8,291.8 411.9,294.5 409.1,294.5 408.2,291.8" fill="#ff7f0e"/>
<polygon points="405.9,294.0 408.2,295.6 407.3,298.3 404.5,298.3 403.6,295.6" fill="#ff7f0e"/>
<polygon points="425.1,275.1 427.4,276.8 426.5,279.4 423.7,279.4 422.8,276.8" fill="#ff7f0e"/>
<polygon points="409.0,307.0 411.3,308.6 410.4,311.3 407.6,311.3 406.7,308.6" fill="#ff7f0e"/>
<polygon points="411.3,304.7 413.6,306.3 412.7,309.0 409.9,309.0 409.0,306.3" fill="#ff7f0e"/>
<polygon points="373.0,296.3 375.2,297.9 374.4,300.6 371.5,300.6 370.7,297.9" fill="#ff7f0e"/>
<polygon points="386.0,296.3 388.3,297.9 387.4,300.6 384.6,300.6 383.7,297.9" fill="#ff7f0e"/>
<polygon points="383.7,306.2 386.0,307.9 385.1,310.6 382.3,310.6 381.4,307.9" fill="#ff7f0e"/>
<polygon points="400.5,303.9 402.8,305.6 402.0,308.3 399.1,308.3 398.3,305.6" fill="#ff7f0e"/>
<polygon points="394.4,297.8 396.7,299.4 395.8,302.1 393.0,302.1 392.1,299.4" fill="#ff7f0e"/>
<polygon points="425.2,274.8 427.5,276.4 426.6,279.1 423.8,279.1 422.9,276.4" fill="#ff7f0e"/>
<polygon points="423.4,293.6 425.7,295.3 424.9,298.0 422.0,298.0 421.2,295.3" fill="#ff7f0e"/>
<polygon points="340.4,306.7 342.7,308.4 341.8,311.0 339.0,311.0 338.1,308.4" fill="#ff7f0e"/>
<circle cx="391.6" cy="304.7" r="2.1" fill="#2ca02c"/>
<circle cx="372.7" cy="308.3" r="2.1" fill="#2ca02c"/>
<circle cx="402.5" cy="308.4" r="2.1" fill="#2ca02c"/>
<circle cx="362.1" cy="300.1" r="2.1" fill="#2ca02c"/>
<circle cx="357.6" cy="301.1" r="2.1" fill="#2ca02c"/>
<circle cx="393.2" cy="291.4" r="2.1" fill="#2ca02c"/>
<circle cx="359.5" cy="300.2" r="2.1" fill="#2ca02c"/>
<circle cx="394.8" cy="293.6" r="2.1" fill="#2ca02c"/>
<circle cx="381.0" cy="287.4" r="2.1" fill="#2ca02c"/>
<circle cx="371.9" cy="300.0" r="2.1" fill="#2ca02c"/>
<circle cx="386.3" cy="308.8" r="2.1" fill="#2ca02c"/>
<circle cx="370.8" cy="288.6" r="2.1" fill="#2ca02c"/>
<circle cx="391.8" cy="294.9" r="2.1" fill="#2ca02c"/>
<circle cx="388.9" cy="304.0" r="2.1" fill="#2ca02c"/>
<circle cx="393.4" cy="308.0" r="2.1" fill="#2ca02c"/>
<circle cx="401.8" cy="290.3" r="2.1" fill="#2ca02c"/>
<circle cx="383.1" cy="310.0" r="2.1" fill="#2ca02c"/>
<circle cx="377.1" cy="305.6" r="2.1" fill="#2ca02c"/>
<circle cx="383.1" cy="296.3" r="2.1" fill="#2ca02c"/>
<circle cx="406.5" cy="304.9" r="2.1" fill="#2ca02c"/>
<circle cx="379.8" cy="305.2" r="2.1" fill="#2ca02c"/>
<circle cx="363.2" cy="294.4" r="2.1" fill="#2ca02c"/>
<circle cx="399.5" cy="299.3" r="2.1" fill="#2ca02c"/>
<circle cx="366.1" cy="302.0" r="2.1" fill="#2ca02c"/>
<circle cx="389.4" cy="307.4" r="2.1" fill="#2ca02c"/>
<circle cx="400.4" cy="297.1" r="2.1" fill="#2ca02c"/>
<circle cx="376.0" cy="298.1" r="2.1" fill="#2ca02c"/>
<circle cx="380.4" cy="308.3" r="2.1" fill="#2ca02c"/>
<circle cx="405.2" cy="306.3" r="2.1" fill="#2ca02c"/>
<circle cx="390.2" cy="297.4" r="2.1" fill="#2ca02c"/>
<circle cx="399.5" cy="296.6" r="2.1" fill="#2ca02c"/>
<circle cx="387.6" cy="288.9" r="2.1" fill="#2ca02c"/>
<circle cx="377.3" cy="308.1" r="2.1" fill="#2ca02c"/>
<circle cx="369.1" cy="290.3" r="2.1" fill="#2ca02c"/>
<circle cx="381.5" cy="309.1" r="2.1" fill="#2ca02c"/>
<circle cx="407.0" cy="296.7" r="2.1" fill="#2ca02c"/>
<circle cx="329.0" cy="243.9" r="2.1" fill="#2ca02c"/>
<circle cx="348.3" cy="241.4" r="2.1" fill="#2ca02c"/>
<circle cx="356.8" cy="251.8" r="2.1" fill="#2ca02c"/>
<circle cx="350.6" cy="254.1" r="2.1" fill="#2ca02c"/>
<circle cx="351.3" cy="256.4" r="2.1" fill="#2ca02c"/>
<circle cx="352.5" cy="258.0" r="2.1" fill="#2ca02c"/>
<circle cx="353.7" cy="259.0" r="2.1" fill="#2ca02c"/>
<circle cx="357.1" cy="256.4" r="2.1" fill="#2ca02c"/>
<circle cx="395.1" cy="284.5" r="2.1" fill="#2ca02c"/>
<circle cx="371.2" cy="286.0" r="2.1" fill="#2ca02c"/>
<circle cx="370.7" cy="286.7" r="2.1" fill="#2ca02c"/>
<circle cx="376.8" cy="291.0" r="2.1" fill="#2ca02c"/>
<circle cx="379.9" cy="288.7" r="2.1" fill="#2ca02c"/>
<circle cx="380.6" cy="294.8" r="2.1" fill="#2ca02c"/>
<circle cx="360.7" cy="295.6" r="2.1" fill="#2ca02c"/>
<circle cx="365.3" cy="297.1" r="2.1" fill="#2ca02c"/>
<circle cx="357.6" cy="297.9" r="2.1" fill="#2ca02c"/>
<circle cx="366.1" cy="301.7" r="2.1" fill="#2ca02c"/>
<circle cx="364.5" cy="304.8" r="2.1" fill="#2ca02c"/>
<circle cx="345.4" cy="304.5" r="2.1" fill="#2ca02c"/>
<circle cx="354.6" cy="309.4" r="2.1" fill="#2ca02c"/>
<circle cx="358.4" cy="310.2" r="2.1" fill="#2ca02c"/>
<circle cx="367.6" cy="314.8" r="2.1" fill="#2ca02c"/>
<circle cx="374.0" cy="310.9" r="2.1" fill="#2ca02c"/>
<circle cx="394.9" cy="284.4" r="2.1" fill="#2ca02c"/>
<circle cx="389.0" cy="288.7" r="2.1" fill="#2ca02c"/>
<circle cx="411.3" cy="282.6" r="2.1" fill="#2ca02c"/>
<circle cx="411.6" cy="285.6" r="2.1" fill="#2ca02c"/>
<circle cx="405.1" cy="287.2" r="2.1" fill="#2ca02c"/>
<circle cx="405.9" cy="291.8" r="2.1" fill="#2ca02c"/>
<circle cx="399.0" cy="295.6" r="2.1" fill="#2ca02c"/>
<circle cx="400.5" cy="297.1" r="2.1" fill="#2ca02c"/>
<circle cx="415.1" cy="295.6" r="2.1" fill="#2ca02c"/>
<circle cx="409.7" cy="300.2" r="2.1" fill="#2ca02c"/>
<circle cx="409.7" cy="303.3" r="2.1" fill="#2ca02c"/>
<circle cx="386.0" cy="301.0" r="2.1" fill="#2ca02c"/>
<circle cx="387.5" cy="309.4" r="2.1" fill="#2ca02c"/>
<circle cx="399.0" cy="309.4" r="2.1" fill="#2ca02c"/>
<circle cx="396.7" cy="312.5" r="2.1" fill="#2ca02c"/>
<circle cx="392.9" cy="304.8" r="2.1" fill="#2ca02c"/>
<circle cx="381.4" cy="301.0" r="2.1" fill="#2ca02c"/>
<circle cx="415.1" cy="296.0" r="2.1" fill="#2ca02c"/>
<polygon points="378.7,296.8 379.3,298.5 381.1,298.6 379.7,299.7 380.2,301.5 378.7,300.4 377.1,301.5 377.7,299.7 376.2,298.6 378.1,298.5" fill="#d62728"/>
<polygon points="372.2,297.6 372.8,299.4 374.7,299.4 373.2,300.5 373.7,302.3 372.2,301.3 370.7,302.3 371.2,300.5 369.7,299.4 371.6,299.4" fill="#d62728"/>
<polygon points="381.2,289.6 381.8,291.4 383.7,291.4 382.2,292.6 382.7,294.3 381.2,293.3 379.7,294.3 380.2,292.6 378.7,291.4 380.6,291.4" fill="#d62728"/>
<polygon points="377.1,295.9 377.7,297.7 379.6,297.7 378.1,298.9 378.6,300.6 377.1,299.6 375.6,300.6 376.1,298.9 374.6,297.7 376.5,297.7" fill="#d62728"/>
<polygon points="373.9,291.4 374.5,293.1 376.4,293.2 374.9,294.3 375.4,296.1 373.9,295.0 372.4,296.1 372.9,294.3 371.4,293.2 373.3,293.1" fill="#d62728"/>
<polygon points="394.6,305.8 395.3,307.6 397.1,307.6 395.6,308.7 396.2,310.5 394.6,309.5 393.1,310.5 393.6,308.7 392.2,307.6 394.0,307.6" fill="#d62728"/>
<polygon points="381.2,295.0 381.8,296.8 383.6,296.8 382.2,298.0 382.7,299.7 381.2,298.7 379.6,299.7 380.2,298.0 378.7,296.8 380.6,296.8" fill="#d62728"/>
<polygon points="391.8,296.1 392.4,297.9 394.2,297.9 392.7,299.0 393.3,300.8 391.8,299.8 390.2,300.8 390.8,299.0 389.3,297.9 391.1,297.9" fill="#d62728"/>
<polygon points="375.3,304.6 376.0,306.3 377.8,306.4 376.3,307.5 376.9,309.3 375.3,308.2 373.8,309.3 374.3,307.5 372.9,306.4 374.7,306.3" fill="#d62728"/>
<polygon points="371.2,293.4 371.8,295.1 373.7,295.2 372.2,296.3 372.7,298.1 371.2,297.0 369.7,298.1 370.2,296.3 368.7,295.2 370.6,295.1" fill="#d62728"/>
<polygon points="376.0,292.4 376.6,294.1 378.5,294.2 377.0,295.3 377.5,297.1 376.0,296.0 374.5,297.1 375.0,295.3 373.5,294.2 375.4,294.1" fill="#d62728"/>
<polygon points="381.8,300.7 382.4,302.4 384.2,302.5 382.8,303.6 383.3,305.4 381.8,304.3 380.2,305.4 380.8,303.6 379.3,302.5 381.1,302.4" fill="#d62728"/>
<polygon points="350.9,240.3 351.6,242.1 353.4,242.1 351.9,243.3 352.5,245.0 350.9,244.0 349.4,245.0 349.9,243.3 348.5,242.1 350.3,242.1" fill="#d62728"/>
<polygon points="401.3,283.8 401.9,285.5 403.8,285.6 402.3,286.7 402.8,288.5 401.3,287.4 399.8,288.5 400.3,286.7 398.8,285.6 400.7,285.5" fill="#d62728"/>
<polygon points="401.3,286.1 401.9,287.8 403.8,287.9 402.3,289.0 402.8,290.8 401.3,289.7 399.8,290.8 400.3,289.0 398.8,287.9 400.7,287.8" fill="#d62728"/>
<polygon points="380.3,288.1 380.9,289.8 382.8,289.9 381.3,291.0 381.8,292.8 380.3,291.7 378.8,292.8 379.3,291.0 377.8,289.9 379.7,289.8" fill="#d62728"/>
<polygon points="373.0,292.2 373.6,294.0 375.4,294.0 374.0,295.1 374.5,296.9 373.0,295.9 371.4,296.9 372.0,295.1 370.5,294.0 372.3,294.0" fill="#d62728"/>
<polygon points="389.8,295.3 390.4,297.0 392.3,297.1 390.8,298.2 391.3,300.0 389.8,298.9 388.3,300.0 388.8,298.2 387.3,297.1 389.2,297.0" fill="#d62728"/>
<polygon points="391.3,297.6 392.0,299.3 393.8,299.4 392.3,300.5 392.9,302.3 391.3,301.2 389.8,302.3 390.4,300.5 388.9,299.4 390.7,299.3" fill="#d62728"/>
<polygon points="359.2,301.9 359.8,303.6 361.6,303.7 360.2,304.8 360.7,306.6 359.2,305.5 357.6,306.6 358.2,304.8 356.7,303.7 358.5,303.6" fill="#d62728"/>
<polygon points="357.6,303.7 358.2,305.5 360.1,305.5 358.6,306.6 359.2,308.4 357.6,307.4 356.1,308.4 356.6,306.6 355.2,305.5 357.0,305.5" fill="#d62728"/>
<polygon points="380.6,303.7 381.2,305.5 383.1,305.5 381.6,306.6 382.1,308.4 380.6,307.4 379.1,308.4 379.6,306.6 378.1,305.5 380.0,305.5" fill="#d62728"/>
<polygon points="382.2,305.3 382.8,307.0 384.6,307.0 383.2,308.2 383.7,310.0 382.2,308.9 380.6,310.0 381.2,308.2 379.7,307.0 381.5,307.0" fill="#d62728"/>
<polygon points="371.4,306.0 372.0,307.8 373.9,307.8 372.4,308.9 373.0,310.7 371.4,309.7 369.9,310.7 370.4,308.9 368.9,307.8 370.8,307.8" fill="#d62728"/>
<polygon points="366.1,309.4 366.7,311.1 368.5,311.2 367.1,312.3 367.6,314.1 366.1,313.0 364.5,314.1 365.1,312.3 363.6,311.2 365.4,311.1" fill="#d62728"/>
<polygon points="387.5,311.1 388.1,312.8 390.0,312.9 388.5,314.0 389.0,315.8 387.5,314.7 386.0,315.8 386.5,314.0 385.0,312.9 386.9,312.8" fill="#d62728"/>
<polygon points="390.6,308.3 391.2,310.1 393.1,310.1 391.6,311.2 392.1,313.0 390.6,312.0 389.1,313.0 389.6,311.2 388.1,310.1 390.0,310.1" fill="#d62728"/>
<polygon points="399.8,301.4 400.4,303.2 402.3,303.2 400.8,304.3 401.3,306.1 399.8,305.1 398.3,306.1 398.8,304.3 397.3,303.2 399.2,303.2" fill="#d62728"/>
<polygon points="404.4,297.6 405.0,299.3 406.9,299.4 405.4,300.5 405.9,302.3 404.4,301.2 402.8,302.3 403.4,300.5 401.9,299.4 403.8,299.3" fill="#d62728"/>
<polygon points="384.5,291.5 385.1,293.2 386.9,293.3 385.4,294.4 386.0,296.2 384.5,295.1 382.9,296.2 383.5,294.4 382.0,293.3 383.8,293.2" fill="#d62728"/>
<polygon points="395.2,289.9 395.8,291.7 397.7,291.7 396.2,292.8 396.7,294.6 395.2,293.6 393.7,294.6 394.2,292.8 392.7,291.7 394.6,291.7" fill="#d62728"/>
<circle cx="396.8" cy="306.8" r="2.1" fill="#9467bd"/>
<circle cx="386.3" cy="301.3" r="2.1" fill="#9467bd"/>
<circle cx="385.5" cy="302.0" r="2.1" fill="#9467bd"/>
<circle cx="385.1" cy="308.1" r="2.1" fill="#9467bd"/>
<circle cx="392.6" cy="289.9" r="2.1" fill="#9467bd"/>
<circle cx="372.2" cy="305.6" r="2.1" fill="#9467bd"/>
<circle cx="375.3" cy="306.0" r="2.1" fill="#9467bd"/>
<circle cx="383.7" cy="303.6" r="2.1" fill="#9467bd"/>
<circle cx="388.3" cy="304.8" r="2.1" fill="#9467bd"/>
<circle cx="391.3" cy="307.5" r="2.1" fill="#9467bd"/>
<circle cx="395.9" cy="302.0" r="2.1" fill="#9467bd"/>
<circle cx="395.9" cy="304.0" r="2.1" fill="#9467bd"/>
<circle cx="382.9" cy="312.5" r="2.1" fill="#9467bd"/>
<g stroke="#222" stroke-width="1.1" stroke-dasharray="3.3,1.56" fill="none">
<line x1="274.1" y1="276.8" x2="447.4" y2="276.8"/>
<line x1="378.1" y1="369.2" x2="378.1" y2="184.3"/>
</g>
<rect x="265.4" y="175.5" width="191.0" height="202.7" fill="none" stroke="#4a4a4a" stroke-width="0.75"/>
<line x1="274.1" y1="378.2" x2="274.1" y2="381.0" stroke="#333" stroke-width="0.85"/>
<text x="274.1" y="390.0" transform="rotate(0.03 274.1 390.0)" font-family="Liberation Sans, sans-serif" font-size="9.8" text-anchor="middle" fill="#161616" textLength="5.9" lengthAdjust="spacingAndGlyphs">0</text>
<line x1="308.8" y1="378.2" x2="308.8" y2="381.0" stroke="#333" stroke-width="0.85"/>
<text x="308.8" y="390.0" transform="rotate(0.03 308.8 390.0)" font-family="Liberation Sans, sans-serif" font-size="9.8" text-anchor="middle" fill="#161616" textLength="5.9" lengthAdjust="spacingAndGlyphs">2</text>
<line x1="343.4" y1="378.2" x2="343.4" y2="381.0" stroke="#333" stroke-width="0.85"/>
<text x="343.4" y="390.0" transform="rotate(0.03 343.4 390.0)" font-family="Liberation Sans, sans-serif" font-size="9.8" text-anchor="middle" fill="#161616" textLength="5.9" lengthAdjust="spacingAndGlyphs">4</text>
<line x1="378.1" y1="378.2" x2="378.1" y2="381.0" stroke="#333" stroke-width="0.85"/>
<text x="378.1" y="390.0" transform="rotate(0.03 378.1 390.0)" font-family="Liberation Sans, sans-serif" font-size="9.8" text-anchor="middle" fill="#161616" textLength="5.9" lengthAdjust="spacingAndGlyphs">6</text>
<line x1="412.7" y1="378.2" x2="412.7" y2="381.0" stroke="#333" stroke-width="0.85"/>
<text x="412.7" y="390.0" transform="rotate(0.03 412.7 390.0)" font-family="Liberation Sans, sans-serif" font-size="9.8" text-anchor="middle" fill="#161616" textLength="5.9" lengthAdjust="spacingAndGlyphs">8</text>
<line x1="447.4" y1="378.2" x2="447.4" y2="381.0" stroke="#333" stroke-width="0.85"/>
<text x="447.4" y="390.0" transform="rotate(0.03 447.4 390.0)" font-family="Liberation Sans, sans-serif" font-size="9.8" text-anchor="middle" fill="#161616" textLength="11.8" lengthAdjust="spacingAndGlyphs">10</text>
<line x1="262.59999999999997" y1="369.2" x2="265.4" y2="369.2" stroke="#333" stroke-width="0.85"/>
<text x="260.4" y="373.0" transform="rotate(0.03 260.4 373.0)" font-family="Liberation Sans, sans-serif" font-size="9.8" text-anchor="end" fill="#161616" textLength="19.8" lengthAdjust="spacingAndGlyphs">0.00</text>
<line x1="262.59999999999997" y1="346.1" x2="265.4" y2="346.1" stroke="#333" stroke-width="0.85"/>
<text x="260.4" y="349.9" transform="rotate(0.03 260.4 349.9)" font-family="Liberation Sans, sans-serif" font-size="9.8" text-anchor="end" fill="#161616" textLength="19.8" lengthAdjust="spacingAndGlyphs">0.25</text>
<line x1="262.59999999999997" y1="323.0" x2="265.4" y2="323.0" stroke="#333" stroke-width="0.85"/>
<text x="260.4" y="326.8" transform="rotate(0.03 260.4 326.8)" font-family="Liberation Sans, sans-serif" font-size="9.8" text-anchor="end" fill="#161616" textLength="19.8" lengthAdjust="spacingAndGlyphs">0.50</text>
<line x1="262.59999999999997" y1="299.9" x2="265.4" y2="299.9" stroke="#333" stroke-width="0.85"/>
<text x="260.4" y="303.7" transform="rotate(0.03 260.4 303.7)" font-family="Liberation Sans, sans-serif" font-size="9.8" text-anchor="end" fill="#161616" textLength="19.8" lengthAdjust="spacingAndGlyphs">0.75</text>
<line x1="262.59999999999997" y1="276.8" x2="265.4" y2="276.8" stroke="#333" stroke-width="0.85"/>
<text x="260.4" y="280.6" transform="rotate(0.03 260.4 280.6)" font-family="Liberation Sans, sans-serif" font-size="9.8" text-anchor="end" fill="#161616" textLength="19.8" lengthAdjust="spacingAndGlyphs">1.00</text>
<line x1="262.59999999999997" y1="253.6" x2="265.4" y2="253.6" stroke="#333" stroke-width="0.85"/>
<text x="260.4" y="257.4" transform="rotate(0.03 260.4 257.4)" font-family="Liberation Sans, sans-serif" font-size="9.8" text-anchor="end" fill="#161616" textLength="19.8" lengthAdjust="spacingAndGlyphs">1.25</text>
<line x1="262.59999999999997" y1="230.5" x2="265.4" y2="230.5" stroke="#333" stroke-width="0.85"/>
<text x="260.4" y="234.3" transform="rotate(0.03 260.4 234.3)" font-family="Liberation Sans, sans-serif" font-size="9.8" text-anchor="end" fill="#161616" textLength="19.8" lengthAdjust="spacingAndGlyphs">1.50</text>
<line x1="262.59999999999997" y1="207.4" x2="265.4" y2="207.4" stroke="#333" stroke-width="0.85"/>
<text x="260.4" y="211.2" transform="rotate(0.03 260.4 211.2)" font-family="Liberation Sans, sans-serif" font-size="9.8" text-anchor="end" fill="#161616" textLength="19.8" lengthAdjust="spacingAndGlyphs">1.75</text>
<line x1="262.59999999999997" y1="184.3" x2="265.4" y2="184.3" stroke="#333" stroke-width="0.85"/>
<text x="260.4" y="188.1" transform="rotate(0.03 260.4 188.1)" font-family="Liberation Sans, sans-serif" font-size="9.8" text-anchor="end" fill="#161616" textLength="19.8" lengthAdjust="spacingAndGlyphs">2.00</text>
<text x="346.7" y="401.2" transform="rotate(0.03 346.7 401.2)" font-family="Liberation Sans, sans-serif" font-size="9.8" text-anchor="start" fill="#161616" textLength="28.4" lengthAdjust="spacingAndGlyphs"><tspan font-style="italic">δ</tspan> in %</text>
<g transform="translate(237,306.2) rotate(-90)"><text x="0.0" y="0.0" transform="rotate(0.03 0.0 0.0)" font-family="Liberation Sans, sans-serif" font-size="9.8" text-anchor="start" fill="#161616" textLength="58.8" lengthAdjust="spacingAndGlyphs">new crition <tspan font-style="italic">γ</tspan></text></g>
<rect x="270.4" y="303.7" width="73.4" height="69.9" rx="1.8" fill="#fff" fill-opacity="0.8" stroke="#d4d4d4" stroke-opacity="0.8" stroke-width="0.9"/>
<rect x="280.8" y="310.0" width="4.3" height="4.3" fill="#1f77b4"/>
<text x="299.5" y="315.0" transform="rotate(0.03 299.5 315.0)" font-family="Liberation Sans, sans-serif" font-size="9.8" text-anchor="start" fill="#161616" textLength="31.7" lengthAdjust="spacingAndGlyphs">BCC(4)</text>
<polygon points="282.9,323.0 285.2,324.7 284.3,327.3 281.5,327.3 280.6,324.7" fill="#ff7f0e"/>
<text x="299.5" y="328.3" transform="rotate(0.03 299.5 328.3)" font-family="Liberation Sans, sans-serif" font-size="9.8" text-anchor="start" fill="#161616" textLength="31.7" lengthAdjust="spacingAndGlyphs">BCC(5)</text>
<circle cx="282.9" cy="338.9" r="2.1" fill="#2ca02c"/>
<text x="299.5" y="341.8" transform="rotate(0.03 299.5 341.8)" font-family="Liberation Sans, sans-serif" font-size="9.8" text-anchor="start" fill="#161616" textLength="31.7" lengthAdjust="spacingAndGlyphs">BCC(6)</text>
<polygon points="282.9,349.6 283.5,351.4 285.4,351.4 283.9,352.5 284.4,354.3 282.9,353.2 281.4,354.3 281.9,352.5 280.4,351.4 282.3,351.4" fill="#d62728"/>
<text x="299.5" y="355.1" transform="rotate(0.03 299.5 355.1)" font-family="Liberation Sans, sans-serif" font-size="9.8" text-anchor="start" fill="#161616" textLength="31.7" lengthAdjust="spacingAndGlyphs">BCC(7)</text>
<circle cx="282.9" cy="365.8" r="2.1" fill="#9467bd"/>
<text x="299.5" y="368.7" transform="rotate(0.03 299.5 368.7)" font-family="Liberation Sans, sans-serif" font-size="9.8" text-anchor="start" fill="#161616" textLength="40.2" lengthAdjust="spacingAndGlyphs">BCC(8,9)</text>
<text x="238.8" y="393.6" transform="rotate(0.03 238.8 393.6)" font-family="Liberation Serif, sans-serif" font-size="21.5" text-anchor="start" fill="#111" textLength="21.6" lengthAdjust="spacingAndGlyphs">(c)</text>
<rect x="546.6" y="310.7" width="4.3" height="4.3" fill="#1f77b4"/>
<rect x="536.7" y="276.9" width="4.3" height="4.3" fill="#1f77b4"/>
<rect x="533.6" y="286.0" width="4.3" height="4.3" fill="#1f77b4"/>
<rect x="537.5" y="309.5" width="4.3" height="4.3" fill="#1f77b4"/>
<rect x="534.8" y="274.6" width="4.3" height="4.3" fill="#1f77b4"/>
<rect x="536.0" y="268.5" width="4.3" height="4.3" fill="#1f77b4"/>
<rect x="537.1" y="279.6" width="4.3" height="4.3" fill="#1f77b4"/>
<rect x="543.6" y="299.0" width="4.3" height="4.3" fill="#1f77b4"/>
<rect x="541.9" y="298.7" width="4.3" height="4.3" fill="#1f77b4"/>
<rect x="531.3" y="276.5" width="4.3" height="4.3" fill="#1f77b4"/>
<rect x="535.9" y="282.8" width="4.3" height="4.3" fill="#1f77b4"/>
<rect x="536.6" y="263.3" width="4.3" height="4.3" fill="#1f77b4"/>
<rect x="540.0" y="316.0" width="4.3" height="4.3" fill="#1f77b4"/>
<rect x="533.3" y="289.7" width="4.3" height="4.3" fill="#1f77b4"/>
<rect x="538.6" y="306.5" width="4.3" height="4.3" fill="#1f77b4"/>
<rect x="534.2" y="288.2" width="4.3" height="4.3" fill="#1f77b4"/>
<rect x="534.5" y="263.6" width="4.3" height="4.3" fill="#1f77b4"/>
<rect x="534.9" y="291.0" width="4.3" height="4.3" fill="#1f77b4"/>
<rect x="534.8" y="277.0" width="4.3" height="4.3" fill="#1f77b4"/>
<rect x="536.5" y="289.3" width="4.3" height="4.3" fill="#1f77b4"/>
<rect x="546.7" y="293.4" width="4.3" height="4.3" fill="#1f77b4"/>
<rect x="536.5" y="270.3" width="4.3" height="4.3" fill="#1f77b4"/>
<rect x="532.7" y="272.0" width="4.3" height="4.3" fill="#1f77b4"/>
<rect x="526.8" y="269.9" width="4.3" height="4.3" fill="#1f77b4"/>
<rect x="567.1" y="288.2" width="4.3" height="4.3" fill="#1f77b4"/>
<rect x="565.8" y="283.3" width="4.3" height="4.3" fill="#1f77b4"/>
<rect x="568.0" y="303.1" width="4.3" height="4.3" fill="#1f77b4"/>
<rect x="566.8" y="285.6" width="4.3" height="4.3" fill="#1f77b4"/>
<rect x="565.8" y="308.1" width="4.3" height="4.3" fill="#1f77b4"/>
<rect x="566.6" y="296.5" width="4.3" height="4.3" fill="#1f77b4"/>
<rect x="551.4" y="301.9" width="4.3" height="4.3" fill="#1f77b4"/>
<rect x="553.3" y="309.2" width="4.3" height="4.3" fill="#1f77b4"/>
<rect x="552.1" y="308.5" width="4.3" height="4.3" fill="#1f77b4"/>
<rect x="554.7" y="308.7" width="4.3" height="4.3" fill="#1f77b4"/>
<rect x="556.8" y="300.4" width="4.3" height="4.3" fill="#1f77b4"/>
<rect x="550.1" y="311.5" width="4.3" height="4.3" fill="#1f77b4"/>
<rect x="555.9" y="316.0" width="4.3" height="4.3" fill="#1f77b4"/>
<rect x="552.4" y="302.5" width="4.3" height="4.3" fill="#1f77b4"/>
<rect x="518.8" y="213.5" width="4.3" height="4.3" fill="#1f77b4"/>
<rect x="511.0" y="219.8" width="4.3" height="4.3" fill="#1f77b4"/>
<rect x="509.1" y="223.5" width="4.3" height="4.3" fill="#1f77b4"/>
<rect x="515.8" y="224.7" width="4.3" height="4.3" fill="#1f77b4"/>
<rect x="511.0" y="228.0" width="4.3" height="4.3" fill="#1f77b4"/>
<rect x="512.5" y="233.2" width="4.3" height="4.3" fill="#1f77b4"/>
<rect x="515.8" y="235.2" width="4.3" height="4.3" fill="#1f77b4"/>
<rect x="516.8" y="237.0" width="4.3" height="4.3" fill="#1f77b4"/>
<rect x="518.8" y="240.4" width="4.3" height="4.3" fill="#1f77b4"/>
<rect x="545.7" y="227.7" width="4.3" height="4.3" fill="#1f77b4"/>
<rect x="560.3" y="245.6" width="4.3" height="4.3" fill="#1f77b4"/>
<rect x="560.4" y="245.8" width="4.3" height="4.3" fill="#1f77b4"/>
<rect x="533.0" y="260.0" width="4.3" height="4.3" fill="#1f77b4"/>
<rect x="547.2" y="269.8" width="4.3" height="4.3" fill="#1f77b4"/>
<rect x="567.0" y="270.5" width="4.3" height="4.3" fill="#1f77b4"/>
<rect x="535.3" y="272.7" width="4.3" height="4.3" fill="#1f77b4"/>
<rect x="535.0" y="275.0" width="4.3" height="4.3" fill="#1f77b4"/>
<rect x="532.7" y="278.0" width="4.3" height="4.3" fill="#1f77b4"/>
<rect x="530.8" y="285.8" width="4.3" height="4.3" fill="#1f77b4"/>
<rect x="534.2" y="292.6" width="4.3" height="4.3" fill="#1f77b4"/>
<rect x="539.0" y="294.4" width="4.3" height="4.3" fill="#1f77b4"/>
<rect x="540.5" y="295.9" width="4.3" height="4.3" fill="#1f77b4"/>
<rect x="534.2" y="301.2" width="4.3" height="4.3" fill="#1f77b4"/>
<rect x="542.0" y="300.4" width="4.3" height="4.3" fill="#1f77b4"/>
<rect x="546.5" y="298.9" width="4.3" height="4.3" fill="#1f77b4"/>
<rect x="565.2" y="290.7" width="4.3" height="4.3" fill="#1f77b4"/>
<rect x="570.4" y="302.4" width="4.3" height="4.3" fill="#1f77b4"/>
<rect x="561.4" y="272.7" width="4.3" height="4.3" fill="#1f77b4"/>
<rect x="540.5" y="287.7" width="4.3" height="4.3" fill="#1f77b4"/>
<rect x="540.5" y="280.2" width="4.3" height="4.3" fill="#1f77b4"/>
<rect x="534.4" y="301.8" width="4.3" height="4.3" fill="#1f77b4"/>
<rect x="542.2" y="300.8" width="4.3" height="4.3" fill="#1f77b4"/>
<rect x="540.4" y="305.8" width="4.3" height="4.3" fill="#1f77b4"/>
<rect x="539.8" y="308.8" width="4.3" height="4.3" fill="#1f77b4"/>
<rect x="539.8" y="311.8" width="4.3" height="4.3" fill="#1f77b4"/>
<rect x="546.8" y="302.8" width="4.3" height="4.3" fill="#1f77b4"/>
<rect x="570.7" y="302.8" width="4.3" height="4.3" fill="#1f77b4"/>
<rect x="567.7" y="310.4" width="4.3" height="4.3" fill="#1f77b4"/>
<rect x="547.2" y="313.4" width="4.3" height="4.3" fill="#1f77b4"/>
<rect x="554.8" y="313.8" width="4.3" height="4.3" fill="#1f77b4"/>
<rect x="561.7" y="315.8" width="4.3" height="4.3" fill="#1f77b4"/>
<rect x="545.4" y="321.8" width="4.3" height="4.3" fill="#1f77b4"/>
<rect x="570.7" y="321.8" width="4.3" height="4.3" fill="#1f77b4"/>
<rect x="565.1" y="327.2" width="4.3" height="4.3" fill="#1f77b4"/>
<rect x="555.4" y="330.8" width="4.3" height="4.3" fill="#1f77b4"/>
<rect x="567.1" y="332.2" width="4.3" height="4.3" fill="#1f77b4"/>
<rect x="547.8" y="339.1" width="4.3" height="4.3" fill="#1f77b4"/>
<rect x="552.4" y="340.1" width="4.3" height="4.3" fill="#1f77b4"/>
<rect x="567.1" y="338.7" width="4.3" height="4.3" fill="#1f77b4"/>
<rect x="560.7" y="345.3" width="4.3" height="4.3" fill="#1f77b4"/>
<rect x="564.3" y="344.7" width="4.3" height="4.3" fill="#1f77b4"/>
<rect x="542.8" y="353.3" width="4.3" height="4.3" fill="#1f77b4"/>
<rect x="553.8" y="350.1" width="4.3" height="4.3" fill="#1f77b4"/>
<rect x="552.8" y="354.3" width="4.3" height="4.3" fill="#1f77b4"/>
<rect x="569.3" y="351.7" width="4.3" height="4.3" fill="#1f77b4"/>
<rect x="565.7" y="356.3" width="4.3" height="4.3" fill="#1f77b4"/>
<rect x="555.8" y="366.7" width="4.3" height="4.3" fill="#1f77b4"/>
<rect x="558.7" y="365.7" width="4.3" height="4.3" fill="#1f77b4"/>
<rect x="534.8" y="293.8" width="4.3" height="4.3" fill="#1f77b4"/>
<rect x="539.8" y="294.8" width="4.3" height="4.3" fill="#1f77b4"/>
<polygon points="547.4,267.5 549.6,269.2 548.8,271.9 546.0,271.9 545.1,269.2" fill="#ff7f0e"/>
<polygon points="539.2,262.9 541.5,264.5 540.6,267.2 537.8,267.2 536.9,264.5" fill="#ff7f0e"/>
<polygon points="543.2,261.1 545.4,262.8 544.6,265.5 541.8,265.5 540.9,262.8" fill="#ff7f0e"/>
<polygon points="547.6,266.2 549.8,267.9 549.0,270.5 546.2,270.5 545.3,267.9" fill="#ff7f0e"/>
<polygon points="538.0,268.0 540.3,269.6 539.4,272.3 536.6,272.3 535.7,269.6" fill="#ff7f0e"/>
<polygon points="535.7,262.0 538.0,263.6 537.1,266.3 534.3,266.3 533.4,263.6" fill="#ff7f0e"/>
<polygon points="544.5,259.5 546.7,261.2 545.9,263.8 543.1,263.8 542.2,261.2" fill="#ff7f0e"/>
<polygon points="537.7,261.1 540.0,262.8 539.1,265.5 536.3,265.5 535.4,262.8" fill="#ff7f0e"/>
<polygon points="546.3,269.0 548.6,270.6 547.7,273.3 544.9,273.3 544.1,270.6" fill="#ff7f0e"/>
<polygon points="540.0,257.9 542.3,259.6 541.4,262.2 538.6,262.2 537.7,259.6" fill="#ff7f0e"/>
<polygon points="536.6,271.3 538.9,273.0 538.0,275.7 535.2,275.7 534.3,273.0" fill="#ff7f0e"/>
<polygon points="543.9,265.9 546.2,267.5 545.3,270.2 542.5,270.2 541.6,267.5" fill="#ff7f0e"/>
<polygon points="556.7,293.4 559.0,295.1 558.1,297.8 555.3,297.8 554.4,295.1" fill="#ff7f0e"/>
<polygon points="548.9,268.0 551.1,269.7 550.3,272.4 547.4,272.4 546.6,269.7" fill="#ff7f0e"/>
<polygon points="558.9,289.2 561.1,290.9 560.3,293.5 557.4,293.5 556.6,290.9" fill="#ff7f0e"/>
<polygon points="554.3,275.9 556.6,277.5 555.7,280.2 552.9,280.2 552.0,277.5" fill="#ff7f0e"/>
<polygon points="548.0,268.8 550.2,270.5 549.4,273.1 546.6,273.1 545.7,270.5" fill="#ff7f0e"/>
<polygon points="559.7,277.7 561.9,279.3 561.1,282.0 558.2,282.0 557.4,279.3" fill="#ff7f0e"/>
<polygon points="568.7,291.6 571.0,293.2 570.1,295.9 567.3,295.9 566.4,293.2" fill="#ff7f0e"/>
<polygon points="551.2,277.4 553.5,279.1 552.6,281.8 549.8,281.8 548.9,279.1" fill="#ff7f0e"/>
<polygon points="563.8,300.4 566.0,302.1 565.2,304.8 562.4,304.8 561.5,302.1" fill="#ff7f0e"/>
<polygon points="563.2,298.4 565.4,300.0 564.6,302.7 561.8,302.7 560.9,300.0" fill="#ff7f0e"/>
<polygon points="551.3,275.7 553.6,277.4 552.7,280.1 549.9,280.1 549.0,277.4" fill="#ff7f0e"/>
<polygon points="553.9,272.6 556.2,274.3 555.3,277.0 552.5,277.0 551.6,274.3" fill="#ff7f0e"/>
<polygon points="550.0,293.8 552.3,295.4 551.5,298.1 548.6,298.1 547.8,295.4" fill="#ff7f0e"/>
<polygon points="553.1,283.9 555.4,285.5 554.5,288.2 551.7,288.2 550.8,285.5" fill="#ff7f0e"/>
<polygon points="555.7,294.7 558.0,296.4 557.1,299.1 554.3,299.1 553.4,296.4" fill="#ff7f0e"/>
<polygon points="553.2,273.3 555.5,275.0 554.6,277.7 551.8,277.7 550.9,275.0" fill="#ff7f0e"/>
<polygon points="554.7,294.8 557.0,296.4 556.2,299.1 553.3,299.1 552.5,296.4" fill="#ff7f0e"/>
<polygon points="554.0,276.3 556.3,277.9 555.4,280.6 552.6,280.6 551.7,277.9" fill="#ff7f0e"/>
<polygon points="557.1,281.2 559.4,282.8 558.5,285.5 555.7,285.5 554.8,282.8" fill="#ff7f0e"/>
<polygon points="554.5,281.1 556.8,282.7 555.9,285.4 553.1,285.4 552.2,282.7" fill="#ff7f0e"/>
<polygon points="564.7,286.4 567.0,288.0 566.1,290.7 563.3,290.7 562.5,288.0" fill="#ff7f0e"/>
<polygon points="562.4,282.3 564.7,283.9 563.8,286.6 561.0,286.6 560.1,283.9" fill="#ff7f0e"/>
<polygon points="559.7,309.8 562.0,311.4 561.1,314.1 558.3,314.1 557.5,311.4" fill="#ff7f0e"/>
<polygon points="562.2,310.2 564.5,311.9 563.6,314.5 560.8,314.5 559.9,311.9" fill="#ff7f0e"/>
<polygon points="561.5,315.6 563.8,317.3 562.9,320.0 560.1,320.0 559.3,317.3" fill="#ff7f0e"/>
<polygon points="560.4,317.8 562.7,319.4 561.8,322.1 559.0,322.1 558.1,319.4" fill="#ff7f0e"/>
<polygon points="558.0,301.3 560.3,302.9 559.4,305.6 556.6,305.6 555.7,302.9" fill="#ff7f0e"/>
<polygon points="562.1,308.7 564.4,310.3 563.6,313.0 560.7,313.0 559.9,310.3" fill="#ff7f0e"/>
<polygon points="557.4,304.9 559.7,306.6 558.8,309.2 556.0,309.2 555.1,306.6" fill="#ff7f0e"/>
<polygon points="555.3,316.9 557.6,318.6 556.7,321.2 553.9,321.2 553.0,318.6" fill="#ff7f0e"/>
<polygon points="561.3,315.7 563.6,317.4 562.7,320.1 559.9,320.1 559.0,317.4" fill="#ff7f0e"/>
<polygon points="561.7,301.3 564.0,302.9 563.1,305.6 560.3,305.6 559.4,302.9" fill="#ff7f0e"/>
<polygon points="516.1,208.6 518.4,210.3 517.6,212.9 514.7,212.9 513.9,210.3" fill="#ff7f0e"/>
<polygon points="513.5,212.8 515.7,214.4 514.9,217.1 512.0,217.1 511.2,214.4" fill="#ff7f0e"/>
<polygon points="519.0,216.5 521.3,218.2 520.4,220.9 517.6,220.9 516.7,218.2" fill="#ff7f0e"/>
<polygon points="518.2,218.3 520.5,220.0 519.6,222.7 516.8,222.7 516.0,220.0" fill="#ff7f0e"/>
<polygon points="519.1,220.7 521.4,222.4 520.5,225.0 517.7,225.0 516.9,222.4" fill="#ff7f0e"/>
<polygon points="534.8,244.9 537.1,246.6 536.2,249.3 533.4,249.3 532.6,246.6" fill="#ff7f0e"/>
<polygon points="544.8,244.9 547.1,246.6 546.3,249.3 543.4,249.3 542.6,246.6" fill="#ff7f0e"/>
<polygon points="557.1,245.7 559.4,247.3 558.5,250.0 555.7,250.0 554.8,247.3" fill="#ff7f0e"/>
<polygon points="558.0,250.2 560.3,251.8 559.4,254.5 556.6,254.5 555.7,251.8" fill="#ff7f0e"/>
<polygon points="534.1,251.4 536.4,253.0 535.5,255.7 532.7,255.7 531.8,253.0" fill="#ff7f0e"/>
<polygon points="544.9,244.8 547.2,246.5 546.3,249.2 543.5,249.2 542.6,246.5" fill="#ff7f0e"/>
<polygon points="557.2,245.3 559.4,246.9 558.6,249.6 555.7,249.6 554.9,246.9" fill="#ff7f0e"/>
<polygon points="558.1,250.1 560.3,251.7 559.5,254.4 556.6,254.4 555.8,251.7" fill="#ff7f0e"/>
<polygon points="533.2,251.6 535.5,253.2 534.6,255.9 531.8,255.9 531.0,253.2" fill="#ff7f0e"/>
<polygon points="534.1,253.1 536.4,254.7 535.5,257.4 532.7,257.4 531.9,254.7" fill="#ff7f0e"/>
<polygon points="539.4,255.3 541.7,257.0 540.8,259.6 538.0,259.6 537.1,257.0" fill="#ff7f0e"/>
<polygon points="551.6,260.8 553.9,262.5 553.0,265.2 550.2,265.2 549.3,262.5" fill="#ff7f0e"/>
<polygon points="532.9,263.5 535.2,265.2 534.4,267.9 531.5,267.9 530.7,265.2" fill="#ff7f0e"/>
<polygon points="542.7,262.0 544.9,263.7 544.1,266.4 541.2,266.4 540.4,263.7" fill="#ff7f0e"/>
<polygon points="565.8,269.2 568.1,270.9 567.2,273.6 564.4,273.6 563.5,270.9" fill="#ff7f0e"/>
<polygon points="563.6,271.0 565.9,272.7 565.0,275.3 562.2,275.3 561.3,272.7" fill="#ff7f0e"/>
<polygon points="538.9,269.5 541.2,271.2 540.3,273.9 537.5,273.9 536.6,271.2" fill="#ff7f0e"/>
<polygon points="541.2,272.5 543.4,274.2 542.6,276.8 539.8,276.8 538.9,274.2" fill="#ff7f0e"/>
<polygon points="538.6,277.7 540.9,279.4 540.0,282.1 537.2,282.1 536.3,279.4" fill="#ff7f0e"/>
<polygon points="537.4,281.8 539.7,283.4 538.8,286.1 536.0,286.1 535.1,283.4" fill="#ff7f0e"/>
<polygon points="558.4,277.7 560.6,279.4 559.8,282.1 556.9,282.1 556.1,279.4" fill="#ff7f0e"/>
<polygon points="563.6,283.7 565.9,285.4 565.0,288.1 562.2,288.1 561.3,285.4" fill="#ff7f0e"/>
<polygon points="541.9,284.5 544.2,286.1 543.3,288.8 540.5,288.8 539.6,286.1" fill="#ff7f0e"/>
<polygon points="566.3,291.2 568.6,292.8 567.7,295.5 564.9,295.5 564.0,292.8" fill="#ff7f0e"/>
<polygon points="566.6,295.7 568.9,297.3 568.0,300.0 565.2,300.0 564.3,297.3" fill="#ff7f0e"/>
<polygon points="546.4,294.9 548.7,296.6 547.8,299.3 545.0,299.3 544.1,296.6" fill="#ff7f0e"/>
<polygon points="556.1,298.7 558.4,300.3 557.5,303.0 554.7,303.0 553.8,300.3" fill="#ff7f0e"/>
<polygon points="552.4,297.9 554.7,299.6 553.8,302.3 551.0,302.3 550.1,299.6" fill="#ff7f0e"/>
<polygon points="568.1,300.2 570.4,301.8 569.5,304.5 566.7,304.5 565.8,301.8" fill="#ff7f0e"/>
<polygon points="550.9,272.5 553.2,274.2 552.3,276.8 549.5,276.8 548.6,274.2" fill="#ff7f0e"/>
<polygon points="545.9,294.6 548.2,296.3 547.3,298.9 544.5,298.9 543.6,296.3" fill="#ff7f0e"/>
<polygon points="546.3,309.0 548.6,310.6 547.7,313.3 544.9,313.3 544.0,310.6" fill="#ff7f0e"/>
<polygon points="550.9,308.6 553.2,310.2 552.3,312.9 549.5,312.9 548.6,310.2" fill="#ff7f0e"/>
<polygon points="552.9,313.6 555.2,315.2 554.3,317.9 551.5,317.9 550.6,315.2" fill="#ff7f0e"/>
<polygon points="557.5,316.5 559.8,318.2 558.9,320.9 556.1,320.9 555.2,318.2" fill="#ff7f0e"/>
<polygon points="550.9,320.9 553.2,322.6 552.3,325.3 549.5,325.3 548.6,322.6" fill="#ff7f0e"/>
<polygon points="563.9,318.1 566.2,319.8 565.3,322.5 562.5,322.5 561.6,319.8" fill="#ff7f0e"/>
<polygon points="565.3,323.5 567.6,325.2 566.7,327.9 563.9,327.9 563.0,325.2" fill="#ff7f0e"/>
<polygon points="560.9,325.5 563.2,327.2 562.3,329.9 559.5,329.9 558.6,327.2" fill="#ff7f0e"/>
<polygon points="562.3,326.9 564.6,328.6 563.7,331.3 560.9,331.3 560.0,328.6" fill="#ff7f0e"/>
<polygon points="555.5,337.9 557.8,339.6 556.9,342.2 554.1,342.2 553.2,339.6" fill="#ff7f0e"/>
<polygon points="565.9,340.1 568.2,341.8 567.3,344.4 564.5,344.4 563.6,341.8" fill="#ff7f0e"/>
<polygon points="567.9,305.6 570.2,307.2 569.3,309.9 566.5,309.9 565.6,307.2" fill="#ff7f0e"/>
<polygon points="567.3,312.6 569.6,314.2 568.7,316.9 565.9,316.9 565.0,314.2" fill="#ff7f0e"/>
<polygon points="561.3,311.6 563.6,313.2 562.7,315.9 559.9,315.9 559.0,313.2" fill="#ff7f0e"/>
<polygon points="552.9,298.6 555.2,300.2 554.3,302.9 551.5,302.9 550.6,300.2" fill="#ff7f0e"/>
<polygon points="567.9,300.6 570.2,302.2 569.3,304.9 566.5,304.9 565.6,302.2" fill="#ff7f0e"/>
<circle cx="544.5" cy="261.9" r="2.1" fill="#2ca02c"/>
<circle cx="556.5" cy="275.3" r="2.1" fill="#2ca02c"/>
<circle cx="547.0" cy="261.3" r="2.1" fill="#2ca02c"/>
<circle cx="549.4" cy="264.3" r="2.1" fill="#2ca02c"/>
<circle cx="540.8" cy="264.5" r="2.1" fill="#2ca02c"/>
<circle cx="545.8" cy="260.0" r="2.1" fill="#2ca02c"/>
<circle cx="552.5" cy="276.2" r="2.1" fill="#2ca02c"/>
<circle cx="546.3" cy="266.8" r="2.1" fill="#2ca02c"/>
<circle cx="543.2" cy="266.6" r="2.1" fill="#2ca02c"/>
<circle cx="547.1" cy="266.1" r="2.1" fill="#2ca02c"/>
<circle cx="556.0" cy="291.9" r="2.1" fill="#2ca02c"/>
<circle cx="559.4" cy="284.7" r="2.1" fill="#2ca02c"/>
<circle cx="558.9" cy="288.1" r="2.1" fill="#2ca02c"/>
<circle cx="560.2" cy="277.6" r="2.1" fill="#2ca02c"/>
<circle cx="565.5" cy="299.1" r="2.1" fill="#2ca02c"/>
<circle cx="556.4" cy="300.4" r="2.1" fill="#2ca02c"/>
<circle cx="568.6" cy="297.4" r="2.1" fill="#2ca02c"/>
<circle cx="557.5" cy="285.5" r="2.1" fill="#2ca02c"/>
<circle cx="563.9" cy="301.7" r="2.1" fill="#2ca02c"/>
<circle cx="561.2" cy="302.4" r="2.1" fill="#2ca02c"/>
<circle cx="557.4" cy="298.7" r="2.1" fill="#2ca02c"/>
<circle cx="564.5" cy="294.1" r="2.1" fill="#2ca02c"/>
<circle cx="551.9" cy="283.9" r="2.1" fill="#2ca02c"/>
<circle cx="558.9" cy="293.3" r="2.1" fill="#2ca02c"/>
<circle cx="552.6" cy="280.8" r="2.1" fill="#2ca02c"/>
<circle cx="557.5" cy="281.3" r="2.1" fill="#2ca02c"/>
<circle cx="569.6" cy="293.4" r="2.1" fill="#2ca02c"/>
<circle cx="558.4" cy="300.8" r="2.1" fill="#2ca02c"/>
<circle cx="550.7" cy="284.6" r="2.1" fill="#2ca02c"/>
<circle cx="552.4" cy="294.7" r="2.1" fill="#2ca02c"/>
<circle cx="554.6" cy="309.9" r="2.1" fill="#2ca02c"/>
<circle cx="559.5" cy="320.5" r="2.1" fill="#2ca02c"/>
<circle cx="561.8" cy="318.4" r="2.1" fill="#2ca02c"/>
<circle cx="558.7" cy="312.7" r="2.1" fill="#2ca02c"/>
<circle cx="562.4" cy="308.9" r="2.1" fill="#2ca02c"/>
<circle cx="565.8" cy="311.2" r="2.1" fill="#2ca02c"/>
<circle cx="561.9" cy="322.0" r="2.1" fill="#2ca02c"/>
<circle cx="517.9" cy="204.7" r="2.1" fill="#2ca02c"/>
<circle cx="531.8" cy="240.6" r="2.1" fill="#2ca02c"/>
<circle cx="535.9" cy="245.8" r="2.1" fill="#2ca02c"/>
<circle cx="541.4" cy="251.8" r="2.1" fill="#2ca02c"/>
<circle cx="535.9" cy="246.5" r="2.1" fill="#2ca02c"/>
<circle cx="541.5" cy="251.7" r="2.1" fill="#2ca02c"/>
<circle cx="553.9" cy="257.0" r="2.1" fill="#2ca02c"/>
<circle cx="561.0" cy="258.8" r="2.1" fill="#2ca02c"/>
<circle cx="555.1" cy="262.6" r="2.1" fill="#2ca02c"/>
<circle cx="535.5" cy="259.5" r="2.1" fill="#2ca02c"/>
<circle cx="538.5" cy="263.7" r="2.1" fill="#2ca02c"/>
<circle cx="547.6" cy="264.4" r="2.1" fill="#2ca02c"/>
<circle cx="562.8" cy="268.5" r="2.1" fill="#2ca02c"/>
<circle cx="558.4" cy="267.0" r="2.1" fill="#2ca02c"/>
<circle cx="556.9" cy="271.2" r="2.1" fill="#2ca02c"/>
<circle cx="553.6" cy="277.1" r="2.1" fill="#2ca02c"/>
<circle cx="543.4" cy="280.9" r="2.1" fill="#2ca02c"/>
<circle cx="548.6" cy="283.1" r="2.1" fill="#2ca02c"/>
<circle cx="561.3" cy="282.4" r="2.1" fill="#2ca02c"/>
<circle cx="547.1" cy="286.9" r="2.1" fill="#2ca02c"/>
<circle cx="547.6" cy="291.3" r="2.1" fill="#2ca02c"/>
<circle cx="550.9" cy="295.1" r="2.1" fill="#2ca02c"/>
<circle cx="553.1" cy="297.3" r="2.1" fill="#2ca02c"/>
<circle cx="562.8" cy="291.3" r="2.1" fill="#2ca02c"/>
<circle cx="564.3" cy="302.6" r="2.1" fill="#2ca02c"/>
<circle cx="545.6" cy="285.4" r="2.1" fill="#2ca02c"/>
<circle cx="557.9" cy="302.0" r="2.1" fill="#2ca02c"/>
<circle cx="564.9" cy="303.0" r="2.1" fill="#2ca02c"/>
<circle cx="558.9" cy="309.0" r="2.1" fill="#2ca02c"/>
<circle cx="562.9" cy="310.0" r="2.1" fill="#2ca02c"/>
<circle cx="564.9" cy="315.0" r="2.1" fill="#2ca02c"/>
<circle cx="561.9" cy="324.3" r="2.1" fill="#2ca02c"/>
<circle cx="555.9" cy="298.0" r="2.1" fill="#2ca02c"/>
<polygon points="548.2,273.7 548.9,275.5 550.7,275.5 549.2,276.7 549.8,278.4 548.2,277.4 546.7,278.4 547.2,276.7 545.8,275.5 547.6,275.5" fill="#d62728"/>
<polygon points="550.1,273.7 550.7,275.4 552.5,275.5 551.1,276.6 551.6,278.4 550.1,277.3 548.5,278.4 549.1,276.6 547.6,275.5 549.5,275.4" fill="#d62728"/>
<polygon points="554.5,286.6 555.2,288.3 557.0,288.4 555.5,289.5 556.1,291.3 554.5,290.2 553.0,291.3 553.5,289.5 552.1,288.4 553.9,288.3" fill="#d62728"/>
<polygon points="555.5,286.1 556.1,287.9 558.0,287.9 556.5,289.0 557.1,290.8 555.5,289.8 554.0,290.8 554.5,289.0 553.1,287.9 554.9,287.9" fill="#d62728"/>
<polygon points="552.1,283.0 552.7,284.8 554.5,284.8 553.1,285.9 553.6,287.7 552.1,286.7 550.5,287.7 551.1,285.9 549.6,284.8 551.5,284.8" fill="#d62728"/>
<polygon points="562.0,298.9 562.6,300.7 564.5,300.7 563.0,301.9 563.5,303.6 562.0,302.6 560.5,303.6 561.0,301.9 559.5,300.7 561.4,300.7" fill="#d62728"/>
<polygon points="552.8,272.2 553.4,273.9 555.3,274.0 553.8,275.1 554.3,276.9 552.8,275.8 551.3,276.9 551.8,275.1 550.3,274.0 552.2,273.9" fill="#d62728"/>
<polygon points="558.8,285.4 559.4,287.2 561.2,287.2 559.8,288.3 560.3,290.1 558.8,289.1 557.2,290.1 557.8,288.3 556.3,287.2 558.1,287.2" fill="#d62728"/>
<polygon points="554.4,281.5 555.0,283.2 556.9,283.3 555.4,284.4 555.9,286.2 554.4,285.1 552.9,286.2 553.4,284.4 551.9,283.3 553.8,283.2" fill="#d62728"/>
<polygon points="533.6,228.0 534.3,229.7 536.1,229.8 534.6,230.9 535.2,232.7 533.6,231.6 532.1,232.7 532.6,230.9 531.2,229.8 533.0,229.7" fill="#d62728"/>
<polygon points="539.2,251.5 539.8,253.2 541.6,253.2 540.2,254.4 540.7,256.2 539.2,255.1 537.6,256.2 538.2,254.4 536.7,253.2 538.6,253.2" fill="#d62728"/>
<polygon points="538.9,252.1 539.5,253.9 541.4,253.9 539.9,255.0 540.4,256.8 538.9,255.8 537.4,256.8 537.9,255.0 536.4,253.9 538.3,253.9" fill="#d62728"/>
<polygon points="559.6,259.6 560.2,261.3 562.0,261.4 560.5,262.5 561.1,264.3 559.6,263.2 558.0,264.3 558.6,262.5 557.1,261.4 558.9,261.3" fill="#d62728"/>
<polygon points="558.1,265.1 558.7,266.9 560.5,266.9 559.1,268.0 559.6,269.8 558.1,268.8 556.5,269.8 557.1,268.0 555.6,266.9 557.4,266.9" fill="#d62728"/>
<polygon points="542.7,270.1 543.3,271.8 545.1,271.9 543.7,273.0 544.2,274.8 542.7,273.7 541.1,274.8 541.7,273.0 540.2,271.9 542.0,271.8" fill="#d62728"/>
<polygon points="545.6,271.6 546.3,273.3 548.1,273.3 546.6,274.5 547.2,276.3 545.6,275.2 544.1,276.3 544.6,274.5 543.2,273.3 545.0,273.3" fill="#d62728"/>
<polygon points="546.4,273.8 547.0,275.5 548.9,275.6 547.4,276.7 547.9,278.5 546.4,277.4 544.9,278.5 545.4,276.7 543.9,275.6 545.8,275.5" fill="#d62728"/>
<polygon points="550.6,274.5 551.2,276.3 553.1,276.3 551.6,277.5 552.1,279.2 550.6,278.2 549.1,279.2 549.6,277.5 548.1,276.3 550.0,276.3" fill="#d62728"/>
<polygon points="554.6,270.1 555.2,271.8 557.1,271.9 555.6,273.0 556.1,274.8 554.6,273.7 553.1,274.8 553.6,273.0 552.1,271.9 554.0,271.8" fill="#d62728"/>
<polygon points="559.6,283.5 560.2,285.3 562.0,285.3 560.5,286.4 561.1,288.2 559.6,287.2 558.0,288.2 558.6,286.4 557.1,285.3 558.9,285.3" fill="#d62728"/>
<polygon points="560.6,290.2 561.2,292.0 563.1,292.0 561.6,293.2 562.1,294.9 560.6,293.9 559.1,294.9 559.6,293.2 558.1,292.0 560.0,292.0" fill="#d62728"/>
<polygon points="555.4,294.7 556.0,296.5 557.8,296.5 556.4,297.6 556.9,299.4 555.4,298.4 553.8,299.4 554.4,297.6 552.9,296.5 554.7,296.5" fill="#d62728"/>
<polygon points="558.4,297.7 559.0,299.5 560.8,299.5 559.4,300.6 559.9,302.4 558.4,301.4 556.8,302.4 557.4,300.6 555.9,299.5 557.7,299.5" fill="#d62728"/>
<polygon points="561.3,299.2 562.0,301.0 563.8,301.0 562.3,302.1 562.9,303.9 561.3,302.9 559.8,303.9 560.3,302.1 558.9,301.0 560.7,301.0" fill="#d62728"/>
<polygon points="544.9,274.5 545.5,276.3 547.4,276.3 545.9,277.5 546.4,279.2 544.9,278.2 543.4,279.2 543.9,277.5 542.4,276.3 544.3,276.3" fill="#d62728"/>
<polygon points="562.8,294.0 563.5,295.7 565.3,295.8 563.8,296.9 564.4,298.7 562.8,297.6 561.3,298.7 561.8,296.9 560.4,295.8 562.2,295.7" fill="#d62728"/>
<polygon points="559.9,297.4 560.5,299.1 562.4,299.2 560.9,300.3 561.4,302.1 559.9,301.0 558.4,302.1 558.9,300.3 557.4,299.2 559.3,299.1" fill="#d62728"/>
<polygon points="561.3,300.4 561.9,302.1 563.8,302.2 562.3,303.3 562.8,305.1 561.3,304.0 559.8,305.1 560.3,303.3 558.8,302.2 560.7,302.1" fill="#d62728"/>
<polygon points="562.5,295.4 563.1,297.1 565.0,297.2 563.5,298.3 564.0,300.1 562.5,299.0 561.0,300.1 561.5,298.3 560.0,297.2 561.9,297.1" fill="#d62728"/>
<circle cx="558.9" cy="289.7" r="2.1" fill="#9467bd"/>
<circle cx="554.4" cy="286.0" r="2.1" fill="#9467bd"/>
<circle cx="556.9" cy="293.3" r="2.1" fill="#9467bd"/>
<circle cx="556.5" cy="290.6" r="2.1" fill="#9467bd"/>
<circle cx="558.6" cy="292.2" r="2.1" fill="#9467bd"/>
<circle cx="554.7" cy="289.4" r="2.1" fill="#9467bd"/>
<circle cx="543.7" cy="265.5" r="2.1" fill="#9467bd"/>
<circle cx="556.9" cy="274.9" r="2.1" fill="#9467bd"/>
<circle cx="555.4" cy="281.6" r="2.1" fill="#9467bd"/>
<circle cx="552.4" cy="285.4" r="2.1" fill="#9467bd"/>
<circle cx="554.2" cy="286.9" r="2.1" fill="#9467bd"/>
<circle cx="555.4" cy="289.1" r="2.1" fill="#9467bd"/>
<circle cx="555.1" cy="290.6" r="2.1" fill="#9467bd"/>
<circle cx="556.9" cy="292.1" r="2.1" fill="#9467bd"/>
<circle cx="558.4" cy="295.1" r="2.1" fill="#9467bd"/>
<circle cx="556.6" cy="293.6" r="2.1" fill="#9467bd"/>
<circle cx="558.5" cy="296.0" r="2.1" fill="#9467bd"/>
<g stroke="#222" stroke-width="1.1" stroke-dasharray="3.3,1.56" fill="none">
<line x1="503.1" y1="268.7" x2="676.6" y2="268.7"/>
<line x1="607.2" y1="353.1" x2="607.2" y2="184.2"/>
</g>
<rect x="494.6" y="175.5" width="189.8" height="202.7" fill="none" stroke="#4a4a4a" stroke-width="0.75"/>
<line x1="503.1" y1="378.2" x2="503.1" y2="381.0" stroke="#333" stroke-width="0.85"/>
<text x="503.1" y="390.0" transform="rotate(0.03 503.1 390.0)" font-family="Liberation Sans, sans-serif" font-size="9.8" text-anchor="middle" fill="#161616" textLength="5.9" lengthAdjust="spacingAndGlyphs">0</text>
<line x1="537.8" y1="378.2" x2="537.8" y2="381.0" stroke="#333" stroke-width="0.85"/>
<text x="537.8" y="390.0" transform="rotate(0.03 537.8 390.0)" font-family="Liberation Sans, sans-serif" font-size="9.8" text-anchor="middle" fill="#161616" textLength="5.9" lengthAdjust="spacingAndGlyphs">2</text>
<line x1="572.5" y1="378.2" x2="572.5" y2="381.0" stroke="#333" stroke-width="0.85"/>
<text x="572.5" y="390.0" transform="rotate(0.03 572.5 390.0)" font-family="Liberation Sans, sans-serif" font-size="9.8" text-anchor="middle" fill="#161616" textLength="5.9" lengthAdjust="spacingAndGlyphs">4</text>
<line x1="607.2" y1="378.2" x2="607.2" y2="381.0" stroke="#333" stroke-width="0.85"/>
<text x="607.2" y="390.0" transform="rotate(0.03 607.2 390.0)" font-family="Liberation Sans, sans-serif" font-size="9.8" text-anchor="middle" fill="#161616" textLength="5.9" lengthAdjust="spacingAndGlyphs">6</text>
<line x1="641.9" y1="378.2" x2="641.9" y2="381.0" stroke="#333" stroke-width="0.85"/>
<text x="641.9" y="390.0" transform="rotate(0.03 641.9 390.0)" font-family="Liberation Sans, sans-serif" font-size="9.8" text-anchor="middle" fill="#161616" textLength="5.9" lengthAdjust="spacingAndGlyphs">8</text>
<line x1="676.6" y1="378.2" x2="676.6" y2="381.0" stroke="#333" stroke-width="0.85"/>
<text x="676.6" y="390.0" transform="rotate(0.03 676.6 390.0)" font-family="Liberation Sans, sans-serif" font-size="9.8" text-anchor="middle" fill="#161616" textLength="11.8" lengthAdjust="spacingAndGlyphs">10</text>
<line x1="491.8" y1="353.1" x2="494.6" y2="353.1" stroke="#333" stroke-width="0.85"/>
<text x="489.6" y="356.9" transform="rotate(0.03 489.6 356.9)" font-family="Liberation Sans, sans-serif" font-size="9.8" text-anchor="end" fill="#161616" textLength="14.2" lengthAdjust="spacingAndGlyphs">0.0</text>
<line x1="491.8" y1="310.9" x2="494.6" y2="310.9" stroke="#333" stroke-width="0.85"/>
<text x="489.6" y="314.7" transform="rotate(0.03 489.6 314.7)" font-family="Liberation Sans, sans-serif" font-size="9.8" text-anchor="end" fill="#161616" textLength="14.2" lengthAdjust="spacingAndGlyphs">0.5</text>
<line x1="491.8" y1="268.7" x2="494.6" y2="268.7" stroke="#333" stroke-width="0.85"/>
<text x="489.6" y="272.5" transform="rotate(0.03 489.6 272.5)" font-family="Liberation Sans, sans-serif" font-size="9.8" text-anchor="end" fill="#161616" textLength="14.2" lengthAdjust="spacingAndGlyphs">1.0</text>
<line x1="491.8" y1="226.4" x2="494.6" y2="226.4" stroke="#333" stroke-width="0.85"/>
<text x="489.6" y="230.2" transform="rotate(0.03 489.6 230.2)" font-family="Liberation Sans, sans-serif" font-size="9.8" text-anchor="end" fill="#161616" textLength="14.2" lengthAdjust="spacingAndGlyphs">1.5</text>
<line x1="491.8" y1="184.2" x2="494.6" y2="184.2" stroke="#333" stroke-width="0.85"/>
<text x="489.6" y="188.0" transform="rotate(0.03 489.6 188.0)" font-family="Liberation Sans, sans-serif" font-size="9.8" text-anchor="end" fill="#161616" textLength="14.2" lengthAdjust="spacingAndGlyphs">2.0</text>
<text x="575.3" y="401.2" transform="rotate(0.03 575.3 401.2)" font-family="Liberation Sans, sans-serif" font-size="9.8" text-anchor="start" fill="#161616" textLength="28.4" lengthAdjust="spacingAndGlyphs"><tspan font-style="italic">δ</tspan> in %</text>
<g transform="translate(471,306.2) rotate(-90)"><text x="0.0" y="0.0" transform="rotate(0.03 0.0 0.0)" font-family="Liberation Sans, sans-serif" font-size="9.8" text-anchor="start" fill="#161616" textLength="58.8" lengthAdjust="spacingAndGlyphs">new crition <tspan font-style="italic">γ</tspan></text></g>
<rect x="607.4" y="179.5" width="72.9" height="70.3" rx="1.8" fill="#fff" fill-opacity="0.8" stroke="#d4d4d4" stroke-opacity="0.8" stroke-width="0.9"/>
<rect x="617.8" y="185.8" width="4.3" height="4.3" fill="#1f77b4"/>
<text x="636.6" y="190.8" transform="rotate(0.03 636.6 190.8)" font-family="Liberation Sans, sans-serif" font-size="9.8" text-anchor="start" fill="#161616" textLength="30.7" lengthAdjust="spacingAndGlyphs">HCP(4)</text>
<polygon points="619.9,199.3 622.2,201.0 621.3,203.6 618.5,203.6 617.6,201.0" fill="#ff7f0e"/>
<text x="636.6" y="204.6" transform="rotate(0.03 636.6 204.6)" font-family="Liberation Sans, sans-serif" font-size="9.8" text-anchor="start" fill="#161616" textLength="30.7" lengthAdjust="spacingAndGlyphs">HCP(5)</text>
<circle cx="619.9" cy="214.9" r="2.1" fill="#2ca02c"/>
<text x="636.6" y="217.8" transform="rotate(0.03 636.6 217.8)" font-family="Liberation Sans, sans-serif" font-size="9.8" text-anchor="start" fill="#161616" textLength="30.7" lengthAdjust="spacingAndGlyphs">HCP(6)</text>
<polygon points="619.9,225.7 620.5,227.5 622.4,227.5 620.9,228.6 621.4,230.4 619.9,229.4 618.4,230.4 618.9,228.6 617.4,227.5 619.3,227.5" fill="#d62728"/>
<text x="636.6" y="231.2" transform="rotate(0.03 636.6 231.2)" font-family="Liberation Sans, sans-serif" font-size="9.8" text-anchor="start" fill="#161616" textLength="30.7" lengthAdjust="spacingAndGlyphs">HCP(7)</text>
<circle cx="619.9" cy="241.8" r="2.1" fill="#9467bd"/>
<text x="636.6" y="244.7" transform="rotate(0.03 636.6 244.7)" font-family="Liberation Sans, sans-serif" font-size="9.8" text-anchor="start" fill="#161616" textLength="39.9" lengthAdjust="spacingAndGlyphs">HCP(8,9)</text>
<text x="461.0" y="393.6" transform="rotate(0.03 461.0 393.6)" font-family="Liberation Serif, sans-serif" font-size="21.5" text-anchor="start" fill="#111" textLength="21.6" lengthAdjust="spacingAndGlyphs">(d)</text>
<rect x="105.5" y="56.7" width="467.8" height="28.6" fill="#e9edf4"/>
<rect x="105.5" y="85.3" width="467.8" height="28.6" fill="#d0d8e8"/>
<rect x="105.5" y="113.9" width="467.8" height="28.6" fill="#e9edf4"/>
<g stroke="#6f98cf" stroke-width="0.9" fill="none">
<line x1="105.5" y1="56.7" x2="573.3" y2="56.7"/>
<line x1="105.5" y1="85.3" x2="573.3" y2="85.3"/>
<line x1="105.5" y1="113.9" x2="573.3" y2="113.9"/>
<line x1="105.5" y1="142.5" x2="573.3" y2="142.5"/>
<line x1="105.5" y1="56.7" x2="105.5" y2="142.5"/>
<line x1="152.3" y1="56.7" x2="152.3" y2="142.5"/>
<line x1="199.1" y1="56.7" x2="199.1" y2="142.5"/>
<line x1="245.8" y1="56.7" x2="245.8" y2="142.5"/>
<line x1="292.6" y1="56.7" x2="292.6" y2="142.5"/>
<line x1="339.4" y1="56.7" x2="339.4" y2="142.5"/>
<line x1="386.2" y1="56.7" x2="386.2" y2="142.5"/>
<line x1="433.0" y1="56.7" x2="433.0" y2="142.5"/>
<line x1="479.7" y1="56.7" x2="479.7" y2="142.5"/>
<line x1="526.5" y1="56.7" x2="526.5" y2="142.5"/>
<line x1="573.3" y1="56.7" x2="573.3" y2="142.5"/>
</g>
<text x="112.5" y="78.8" font-family="Liberation Sans, sans-serif" font-weight="bold" font-size="17.2" fill="#000" stroke="#000" stroke-width="0.25" transform="translate(112.5,0) scale(0.82,1) translate(-112.5,0)">Sc</text>
<text x="159.3" y="78.8" font-family="Liberation Sans, sans-serif" font-weight="bold" font-size="17.2" fill="#000" stroke="#000" stroke-width="0.25" transform="translate(159.3,0) scale(0.82,1) translate(-159.3,0)">Ti</text>
<text x="206.1" y="78.8" font-family="Liberation Sans, sans-serif" font-weight="bold" font-size="17.2" fill="#000" stroke="#000" stroke-width="0.25" transform="translate(206.1,0) scale(0.82,1) translate(-206.1,0)">V</text>
<text x="252.8" y="78.8" font-family="Liberation Sans, sans-serif" font-weight="bold" font-size="17.2" fill="#000" stroke="#000" stroke-width="0.25" transform="translate(252.8,0) scale(0.82,1) translate(-252.8,0)">Cr</text>
<text x="299.6" y="78.8" font-family="Liberation Sans, sans-serif" font-weight="bold" font-size="17.2" fill="#000" stroke="#000" stroke-width="0.25" transform="translate(299.6,0) scale(0.82,1) translate(-299.6,0)">Mn</text>
<text x="346.4" y="78.8" font-family="Liberation Sans, sans-serif" font-weight="bold" font-size="17.2" fill="#000" stroke="#000" stroke-width="0.25" transform="translate(346.4,0) scale(0.82,1) translate(-346.4,0)">Fe</text>
<text x="393.2" y="78.8" font-family="Liberation Sans, sans-serif" font-weight="bold" font-size="17.2" fill="#000" stroke="#000" stroke-width="0.25" transform="translate(393.2,0) scale(0.82,1) translate(-393.2,0)">Co</text>
<text x="440.0" y="78.8" font-family="Liberation Sans, sans-serif" font-weight="bold" font-size="17.2" fill="#000" stroke="#000" stroke-width="0.25" transform="translate(440.0,0) scale(0.82,1) translate(-440.0,0)">Ni</text>
<text x="486.7" y="78.8" font-family="Liberation Sans, sans-serif" font-weight="bold" font-size="17.2" fill="#000" stroke="#000" stroke-width="0.25" transform="translate(486.7,0) scale(0.82,1) translate(-486.7,0)">Cu</text>
<text x="533.5" y="78.8" font-family="Liberation Sans, sans-serif" font-weight="bold" font-size="17.2" fill="#000" stroke="#000" stroke-width="0.25" transform="translate(533.5,0) scale(0.82,1) translate(-533.5,0)">Zn</text>
<text x="112.5" y="107.4" font-family="Liberation Sans, sans-serif" font-weight="bold" font-size="17.2" fill="#000" stroke="#000" stroke-width="0.25" transform="translate(112.5,0) scale(0.82,1) translate(-112.5,0)">Y</text>
<text x="159.3" y="107.4" font-family="Liberation Sans, sans-serif" font-weight="bold" font-size="17.2" fill="#000" stroke="#000" stroke-width="0.25" transform="translate(159.3,0) scale(0.82,1) translate(-159.3,0)">Zr</text>
<text x="206.1" y="107.4" font-family="Liberation Sans, sans-serif" font-weight="bold" font-size="17.2" fill="#000" stroke="#000" stroke-width="0.25" transform="translate(206.1,0) scale(0.82,1) translate(-206.1,0)">Nb</text>
<text x="252.8" y="107.4" font-family="Liberation Sans, sans-serif" font-weight="bold" font-size="17.2" fill="#000" stroke="#000" stroke-width="0.25" transform="translate(252.8,0) scale(0.82,1) translate(-252.8,0)">Mo</text>
<text x="299.6" y="107.4" font-family="Liberation Sans, sans-serif" font-weight="bold" font-size="17.2" fill="#000" stroke="#000" stroke-width="0.25" transform="translate(299.6,0) scale(0.82,1) translate(-299.6,0)">Tc</text>
<text x="346.4" y="107.4" font-family="Liberation Sans, sans-serif" font-weight="bold" font-size="17.2" fill="#000" stroke="#000" stroke-width="0.25" transform="translate(346.4,0) scale(0.82,1) translate(-346.4,0)">Ru</text>
<text x="393.2" y="107.4" font-family="Liberation Sans, sans-serif" font-weight="bold" font-size="17.2" fill="#000" stroke="#000" stroke-width="0.25" transform="translate(393.2,0) scale(0.82,1) translate(-393.2,0)">Rh</text>
<text x="440.0" y="107.4" font-family="Liberation Sans, sans-serif" font-weight="bold" font-size="17.2" fill="#000" stroke="#000" stroke-width="0.25" transform="translate(440.0,0) scale(0.82,1) translate(-440.0,0)">Pd</text>
<text x="486.7" y="107.4" font-family="Liberation Sans, sans-serif" font-weight="bold" font-size="17.2" fill="#000" stroke="#000" stroke-width="0.25" transform="translate(486.7,0) scale(0.82,1) translate(-486.7,0)">Ag</text>
<text x="533.5" y="107.4" font-family="Liberation Sans, sans-serif" font-weight="bold" font-size="17.2" fill="#000" stroke="#000" stroke-width="0.25" transform="translate(533.5,0) scale(0.82,1) translate(-533.5,0)">Cd</text>
<text x="112.5" y="136.0" font-family="Liberation Sans, sans-serif" font-weight="bold" font-size="17.2" fill="#000" stroke="#000" stroke-width="0.25" transform="translate(112.5,0) scale(0.82,1) translate(-112.5,0)">Lu</text>
<text x="159.3" y="136.0" font-family="Liberation Sans, sans-serif" font-weight="bold" font-size="17.2" fill="#000" stroke="#000" stroke-width="0.25" transform="translate(159.3,0) scale(0.82,1) translate(-159.3,0)">Hf</text>
<text x="206.1" y="136.0" font-family="Liberation Sans, sans-serif" font-weight="bold" font-size="17.2" fill="#000" stroke="#000" stroke-width="0.25" transform="translate(206.1,0) scale(0.82,1) translate(-206.1,0)">Ta</text>
<text x="252.8" y="136.0" font-family="Liberation Sans, sans-serif" font-weight="bold" font-size="17.2" fill="#000" stroke="#000" stroke-width="0.25" transform="translate(252.8,0) scale(0.82,1) translate(-252.8,0)">W</text>
<text x="299.6" y="136.0" font-family="Liberation Sans, sans-serif" font-weight="bold" font-size="17.2" fill="#000" stroke="#000" stroke-width="0.25" transform="translate(299.6,0) scale(0.82,1) translate(-299.6,0)">Re</text>
<text x="346.4" y="136.0" font-family="Liberation Sans, sans-serif" font-weight="bold" font-size="17.2" fill="#000" stroke="#000" stroke-width="0.25" transform="translate(346.4,0) scale(0.82,1) translate(-346.4,0)">Os</text>
<text x="393.2" y="136.0" font-family="Liberation Sans, sans-serif" font-weight="bold" font-size="17.2" fill="#000" stroke="#000" stroke-width="0.25" transform="translate(393.2,0) scale(0.82,1) translate(-393.2,0)">Ir</text>
<text x="440.0" y="136.0" font-family="Liberation Sans, sans-serif" font-weight="bold" font-size="17.2" fill="#000" stroke="#000" stroke-width="0.25" transform="translate(440.0,0) scale(0.82,1) translate(-440.0,0)">Pt</text>
<text x="486.7" y="136.0" font-family="Liberation Sans, sans-serif" font-weight="bold" font-size="17.2" fill="#000" stroke="#000" stroke-width="0.25" transform="translate(486.7,0) scale(0.82,1) translate(-486.7,0)">Au</text>
<text x="533.5" y="136.0" font-family="Liberation Sans, sans-serif" font-weight="bold" font-size="17.2" fill="#000" stroke="#000" stroke-width="0.25" transform="translate(533.5,0) scale(0.82,1) translate(-533.5,0)">Hg</text>
<rect x="151.2" y="56.6" width="139.4" height="85.4" rx="1" fill="none" stroke="#ff2600" stroke-width="2.8"/>
<rect x="292.9" y="56.6" width="140.9" height="85.4" rx="1" fill="none" stroke="#008a1a" stroke-width="2.8"/>
<rect x="385.2" y="55.9" width="142" height="85.5" rx="1.5" fill="none" stroke="#0a32ff" stroke-width="2.8"/>
<line x1="345.7" y1="56.6" x2="383.8" y2="56.6" stroke="#5a9a8a" stroke-opacity="0.55" stroke-width="2.8"/>
<line x1="442.6" y1="55.9" x2="477.7" y2="55.9" stroke="#6a7a9a" stroke-opacity="0.6" stroke-width="2.8"/>
<polygon points="213.3,18.4 226.7,18.4 226.7,38.7 233.5,38.7 220.0,52.1 206.5,38.7 213.3,38.7" fill="#ff2600" stroke="#4a5f9a" stroke-opacity="0.55" stroke-width="0.7"/>
<polygon points="356.9,19.2 370.3,19.2 370.3,39.7 377.2,39.7 363.6,53.1 350.0,39.7 356.9,39.7" fill="#008a1a" stroke="#4a5f9a" stroke-opacity="0.55" stroke-width="0.7"/>
<polygon points="453.2,18.1 466.6,18.1 466.6,38.9 473.5,38.9 459.9,52.4 446.3,38.9 453.2,38.9" fill="#0a32ff" stroke="#4a5f9a" stroke-opacity="0.55" stroke-width="0.7"/>
<text x="204.7" y="14.2" font-family="Liberation Sans, sans-serif" font-weight="bold" font-size="18.6" fill="#ff0000" stroke="#ff0000" stroke-width="0.3" textLength="33.4" lengthAdjust="spacingAndGlyphs">BCC</text>
<text x="348" y="14.8" font-family="Liberation Sans, sans-serif" font-weight="bold" font-size="18.6" fill="#008000" stroke="#008000" stroke-width="0.3" textLength="34.9" lengthAdjust="spacingAndGlyphs">HCP</text>
<text x="444.4" y="13.8" font-family="Liberation Sans, sans-serif" font-weight="bold" font-size="18.6" fill="#0000ff" stroke="#0000ff" stroke-width="0.3" textLength="31.5" lengthAdjust="spacingAndGlyphs">FCC</text>
<text x="56.0" y="137.0" transform="rotate(0.03 56.0 137.0)" font-family="Liberation Serif, sans-serif" font-size="21.5" text-anchor="start" fill="#111" textLength="21.4" lengthAdjust="spacingAndGlyphs">(a)</text>
</svg>
</body></html>
